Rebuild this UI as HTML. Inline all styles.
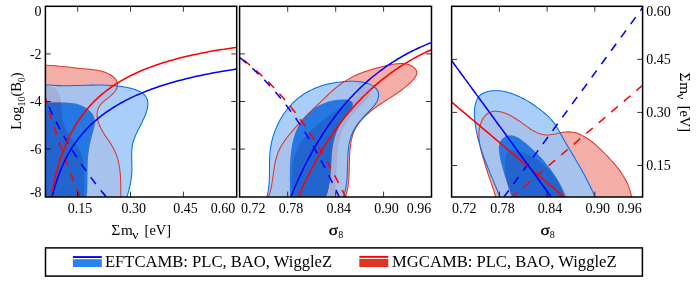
<!DOCTYPE html>
<html><head><meta charset="utf-8"><title>contours</title>
<style>html,body{margin:0;padding:0;background:#fff;}svg{display:block;font-family:"Liberation Serif",serif;will-change:transform;}</style>
</head><body>
<svg width="698" height="284" viewBox="0 0 698 284">
<rect width="698" height="284" fill="#fff"/>
<defs>
<clipPath id="cL"><rect x="45.4" y="6.3" width="191.3" height="190.7"/></clipPath>
<clipPath id="cM"><rect x="239.6" y="6.3" width="191.9" height="190.7"/></clipPath>
<clipPath id="cR"><rect x="451.6" y="6.3" width="191.0" height="190.7"/></clipPath>
</defs>
<g clip-path="url(#cL)">
<path d="M39.9,65.5 L42.6,65.4 L45.2,65.3 L47.8,65.3 L50.3,65.4 L52.9,65.5 L55.4,65.7 L57.9,65.9 L60.3,66.2 L62.8,66.4 L65.3,66.7 L67.8,67.0 L70.2,67.3 L72.7,67.6 L75.2,67.9 L77.8,68.2 L80.3,68.5 L82.9,68.7 L85.5,68.9 L88.1,69.1 L90.7,69.4 L93.3,69.7 L95.8,70.1 L98.4,70.5 L100.9,71.1 L103.4,71.8 L105.8,72.6 L108.1,73.6 L110.4,74.8 L112.5,76.2 L114.4,77.8 L115.9,79.6 L116.9,81.6 L117.4,83.8 L117.3,86.1 L116.8,88.3 L115.7,90.5 L114.1,92.5 L112.2,94.4 L110.1,96.3 L107.9,98.1 L105.6,99.9 L103.5,101.7 L101.6,103.6 L99.9,105.5 L98.7,107.6 L97.8,109.8 L97.3,112.0 L97.1,114.3 L97.2,116.6 L97.5,118.9 L98.1,121.3 L98.9,123.7 L99.8,126.0 L100.9,128.3 L102.1,130.6 L103.4,132.8 L104.8,135.0 L106.3,137.1 L107.7,139.3 L109.2,141.4 L110.6,143.6 L111.9,145.8 L113.2,148.0 L114.4,150.2 L115.4,152.5 L116.4,154.8 L117.2,157.2 L117.9,159.6 L118.5,162.0 L119.0,164.5 L119.4,167.0 L119.8,169.5 L120.1,172.0 L120.3,174.6 L120.5,177.1 L120.6,179.7 L120.7,182.3 L120.7,184.8 L120.8,187.4 L120.8,189.9 L120.8,192.5 L120.8,195.0 L120.8,197.5 L120.8,200.0 L40.0,200.0Z" fill="#F3AEA7"/>
<path d="M39.8,86.1 L42.7,85.7 L45.6,85.7 L48.4,86.0 L51.0,86.7 L53.3,87.7 L55.4,89.0 L57.2,90.6 L58.5,92.6 L59.5,94.7 L60.2,97.0 L60.7,99.5 L61.1,102.0 L61.3,104.6 L61.5,107.2 L61.7,109.8 L61.9,112.4 L62.1,115.0 L62.4,117.5 L62.8,120.1 L63.4,122.5 L64.1,124.9 L65.0,127.3 L66.1,129.6 L67.4,131.8 L68.8,134.0 L70.2,136.2 L71.7,138.4 L73.3,140.5 L74.8,142.6 L76.3,144.8 L77.7,147.0 L79.1,149.2 L80.3,151.5 L81.4,153.8 L82.2,156.2 L82.9,158.6 L83.4,161.1 L83.8,163.7 L84.1,166.2 L84.2,168.9 L84.3,171.5 L84.3,174.2 L84.2,176.9 L84.2,179.5 L84.1,182.2 L84.1,184.8 L84.1,187.5 L84.2,190.1 L84.3,192.6 L84.6,195.1 L85.0,197.6 L85.5,200.0 L40.0,200.0Z" fill="#E03424"/>
<path d="M39.9,83.8 L42.5,84.2 L45.1,84.6 L47.7,84.9 L50.3,85.1 L52.9,85.3 L55.4,85.5 L58.0,85.6 L60.5,85.6 L63.1,85.7 L65.6,85.7 L68.1,85.7 L70.7,85.7 L73.2,85.6 L75.7,85.5 L78.2,85.5 L80.8,85.4 L83.3,85.3 L85.8,85.2 L88.3,85.2 L90.9,85.1 L93.4,85.1 L95.9,85.0 L98.5,85.0 L101.0,85.0 L103.6,85.1 L106.2,85.2 L108.7,85.3 L111.3,85.4 L113.9,85.6 L116.5,85.9 L119.2,86.2 L121.8,86.6 L124.4,87.0 L127.1,87.5 L129.8,88.0 L132.4,88.7 L135.0,89.5 L137.4,90.4 L139.7,91.4 L141.8,92.6 L143.6,94.1 L145.1,95.7 L146.3,97.5 L147.2,99.5 L147.7,101.6 L147.9,103.8 L147.8,106.1 L147.4,108.5 L146.7,111.0 L145.9,113.5 L144.9,116.0 L143.8,118.5 L142.7,120.9 L141.5,123.4 L140.3,125.7 L139.1,128.1 L137.9,130.5 L136.8,132.8 L135.7,135.1 L134.7,137.5 L133.9,139.8 L133.1,142.2 L132.5,144.6 L132.1,147.1 L131.9,149.6 L131.7,152.1 L131.7,154.6 L131.7,157.2 L131.8,159.7 L131.8,162.3 L131.9,164.9 L131.9,167.5 L131.9,170.0 L131.8,172.6 L131.6,175.1 L131.3,177.6 L131.0,180.2 L130.6,182.7 L130.1,185.2 L129.5,187.7 L128.9,190.1 L128.2,192.6 L127.5,195.0 L126.7,197.5 L125.8,199.9 L40.0,200.0Z M40.3,101.6 L42.6,101.9 L45.0,102.2 L47.4,102.3 L49.9,102.4 L52.5,102.4 L55.2,102.4 L57.8,102.4 L60.5,102.4 L63.2,102.4 L65.9,102.5 L68.5,102.7 L71.2,102.9 L73.8,103.3 L76.3,103.8 L78.8,104.5 L81.2,105.4 L83.6,106.4 L85.8,107.7 L87.8,109.1 L89.7,110.7 L91.3,112.4 L92.7,114.3 L93.8,116.3 L94.5,118.5 L94.9,120.8 L94.9,123.2 L94.6,125.8 L94.0,128.4 L93.3,131.0 L92.6,133.6 L91.8,136.2 L91.2,138.7 L90.6,141.3 L90.0,143.8 L89.5,146.3 L89.1,148.9 L88.7,151.4 L88.4,153.9 L88.1,156.5 L87.9,159.0 L87.8,161.6 L87.7,164.1 L87.6,166.7 L87.5,169.2 L87.5,171.8 L87.5,174.3 L87.4,176.9 L87.4,179.5 L87.4,182.0 L87.3,184.6 L87.3,187.2 L87.2,189.7 L87.0,192.3 L86.8,194.9 L86.6,197.4 L86.3,200.0 L40.0,200.0Z" fill="#99C5F8" fill-opacity="0.85" fill-rule="evenodd"/>
<path d="M40.3,101.6 L42.6,101.9 L45.0,102.2 L47.4,102.3 L49.9,102.4 L52.5,102.4 L55.2,102.4 L57.8,102.4 L60.5,102.4 L63.2,102.4 L65.9,102.5 L68.5,102.7 L71.2,102.9 L73.8,103.3 L76.3,103.8 L78.8,104.5 L81.2,105.4 L83.6,106.4 L85.8,107.7 L87.8,109.1 L89.7,110.7 L91.3,112.4 L92.7,114.3 L93.8,116.3 L94.5,118.5 L94.9,120.8 L94.9,123.2 L94.6,125.8 L94.0,128.4 L93.3,131.0 L92.6,133.6 L91.8,136.2 L91.2,138.7 L90.6,141.3 L90.0,143.8 L89.5,146.3 L89.1,148.9 L88.7,151.4 L88.4,153.9 L88.1,156.5 L87.9,159.0 L87.8,161.6 L87.7,164.1 L87.6,166.7 L87.5,169.2 L87.5,171.8 L87.5,174.3 L87.4,176.9 L87.4,179.5 L87.4,182.0 L87.3,184.6 L87.3,187.2 L87.2,189.7 L87.0,192.3 L86.8,194.9 L86.6,197.4 L86.3,200.0 L40.0,200.0Z" fill="#006FED" fill-opacity="0.85"/>
<path d="M39.9,65.5 L42.6,65.4 L45.2,65.3 L47.8,65.3 L50.3,65.4 L52.9,65.5 L55.4,65.7 L57.9,65.9 L60.3,66.2 L62.8,66.4 L65.3,66.7 L67.8,67.0 L70.2,67.3 L72.7,67.6 L75.2,67.9 L77.8,68.2 L80.3,68.5 L82.9,68.7 L85.5,68.9 L88.1,69.1 L90.7,69.4 L93.3,69.7 L95.8,70.1 L98.4,70.5 L100.9,71.1 L103.4,71.8 L105.8,72.6 L108.1,73.6 L110.4,74.8 L112.5,76.2 L114.4,77.8 L115.9,79.6 L116.9,81.6 L117.4,83.8 L117.3,86.1 L116.8,88.3 L115.7,90.5 L114.1,92.5 L112.2,94.4 L110.1,96.3 L107.9,98.1 L105.6,99.9 L103.5,101.7 L101.6,103.6 L99.9,105.5 L98.7,107.6 L97.8,109.8 L97.3,112.0 L97.1,114.3 L97.2,116.6 L97.5,118.9 L98.1,121.3 L98.9,123.7 L99.8,126.0 L100.9,128.3 L102.1,130.6 L103.4,132.8 L104.8,135.0 L106.3,137.1 L107.7,139.3 L109.2,141.4 L110.6,143.6 L111.9,145.8 L113.2,148.0 L114.4,150.2 L115.4,152.5 L116.4,154.8 L117.2,157.2 L117.9,159.6 L118.5,162.0 L119.0,164.5 L119.4,167.0 L119.8,169.5 L120.1,172.0 L120.3,174.6 L120.5,177.1 L120.6,179.7 L120.7,182.3 L120.7,184.8 L120.8,187.4 L120.8,189.9 L120.8,192.5 L120.8,195.0 L120.8,197.5 L120.8,200.0 L40.0,200.0Z" fill="none" stroke="#E03424" stroke-width="1.05"/>
<path d="M39.9,83.8 L42.5,84.2 L45.1,84.6 L47.7,84.9 L50.3,85.1 L52.9,85.3 L55.4,85.5 L58.0,85.6 L60.5,85.6 L63.1,85.7 L65.6,85.7 L68.1,85.7 L70.7,85.7 L73.2,85.6 L75.7,85.5 L78.2,85.5 L80.8,85.4 L83.3,85.3 L85.8,85.2 L88.3,85.2 L90.9,85.1 L93.4,85.1 L95.9,85.0 L98.5,85.0 L101.0,85.0 L103.6,85.1 L106.2,85.2 L108.7,85.3 L111.3,85.4 L113.9,85.6 L116.5,85.9 L119.2,86.2 L121.8,86.6 L124.4,87.0 L127.1,87.5 L129.8,88.0 L132.4,88.7 L135.0,89.5 L137.4,90.4 L139.7,91.4 L141.8,92.6 L143.6,94.1 L145.1,95.7 L146.3,97.5 L147.2,99.5 L147.7,101.6 L147.9,103.8 L147.8,106.1 L147.4,108.5 L146.7,111.0 L145.9,113.5 L144.9,116.0 L143.8,118.5 L142.7,120.9 L141.5,123.4 L140.3,125.7 L139.1,128.1 L137.9,130.5 L136.8,132.8 L135.7,135.1 L134.7,137.5 L133.9,139.8 L133.1,142.2 L132.5,144.6 L132.1,147.1 L131.9,149.6 L131.7,152.1 L131.7,154.6 L131.7,157.2 L131.8,159.7 L131.8,162.3 L131.9,164.9 L131.9,167.5 L131.9,170.0 L131.8,172.6 L131.6,175.1 L131.3,177.6 L131.0,180.2 L130.6,182.7 L130.1,185.2 L129.5,187.7 L128.9,190.1 L128.2,192.6 L127.5,195.0 L126.7,197.5 L125.8,199.9 L40.0,200.0Z" fill="none" stroke="#006FED" stroke-width="1.05"/>
<path d="M45.0,97.0 L45.0,97.3 L45.1,97.5 L45.2,97.8 L45.3,98.1 L45.3,98.3 L45.4,98.6 L45.5,98.9 L45.6,99.1 L45.6,99.4 L45.7,99.7 L45.8,99.9 L45.9,100.2 L45.9,100.5 L46.0,100.7 L46.1,101.0 L46.2,101.3 L46.2,101.5 L46.3,101.8 L46.4,102.1 L46.5,102.3 L46.5,102.6 L46.6,102.9 L46.7,103.1 L46.8,103.4 L46.8,103.7 L46.9,103.9 L47.0,104.2 L47.1,104.5 L47.1,104.7 L47.2,105.0 L47.3,105.3 L47.4,105.5 L47.4,105.8 L47.5,106.1 L47.6,106.3 L47.7,106.6 L47.8,106.8 L47.8,107.1 L47.9,107.4 L48.0,107.6 L48.1,107.9 L48.1,108.2 L48.2,108.4 L48.3,108.7 L48.4,109.0 L48.5,109.2 L48.5,109.5 L48.6,109.8 L48.7,110.0 L48.8,110.3 L48.9,110.6 L48.9,110.8 L49.0,111.1 L49.1,111.4 L49.2,111.6 L49.3,111.9 L49.3,112.1 L49.4,112.4 L49.5,112.7 L49.6,112.9 L49.7,113.2 L49.7,113.5 L49.8,113.7 L49.9,114.0 L50.0,114.3 L50.1,114.5 L50.1,114.8 L50.2,115.1 L50.3,115.3 L50.4,115.6 L50.5,115.8 L50.5,116.1 L50.6,116.4 L50.7,116.6 L50.8,116.9 L50.9,117.2 L51.0,117.4 L51.0,117.7 L51.1,118.0 L51.2,118.2 L51.3,118.5 L51.4,118.7 L51.4,119.0 L51.5,119.3 L51.6,119.5 L51.7,119.8 L51.8,120.1 L51.9,120.3 L51.9,120.6 L52.0,120.9 L52.1,121.1 L52.2,121.4 L52.3,121.6 L52.4,121.9 L52.4,122.2 L52.5,122.4 L52.6,122.7 L52.7,123.0 L52.8,123.2 L52.9,123.5 L53.0,123.8 L53.0,124.0 L53.1,124.3 L53.2,124.5 L53.3,124.8 L53.4,125.1 L53.5,125.3 L53.5,125.6 L53.6,125.9 L53.7,126.1 L53.8,126.4 L53.9,126.6 L54.0,126.9 L54.1,127.2 L54.1,127.4 L54.2,127.7 L54.3,128.0 L54.4,128.2 L54.5,128.5 L54.6,128.7 L54.7,129.0 L54.8,129.3 L54.8,129.5 L54.9,129.8 L55.0,130.1 L55.1,130.3 L55.2,130.6 L55.3,130.8 L55.4,131.1 L55.4,131.4 L55.5,131.6 L55.6,131.9 L55.7,132.2 L55.8,132.4 L55.9,132.7 L56.0,132.9 L56.1,133.2 L56.1,133.5 L56.2,133.7 L56.3,134.0 L56.4,134.3 L56.5,134.5 L56.6,134.8 L56.7,135.0 L56.8,135.3 L56.9,135.6 L56.9,135.8 L57.0,136.1 L57.1,136.3 L57.2,136.6 L57.3,136.9 L57.4,137.1 L57.5,137.4 L57.6,137.7 L57.7,137.9 L57.7,138.2 L57.8,138.4 L57.9,138.7 L58.0,139.0 L58.1,139.2 L58.2,139.5 L58.3,139.7 L58.4,140.0 L58.5,140.3 L58.6,140.5 L58.6,140.8 L58.7,141.1 L58.8,141.3 L58.9,141.6 L59.0,141.8 L59.1,142.1 L59.2,142.4 L59.3,142.6 L59.4,142.9 L59.5,143.1 L59.6,143.4 L59.6,143.7 L59.7,143.9 L59.8,144.2 L59.9,144.4 L60.0,144.7 L60.1,145.0 L60.2,145.2 L60.3,145.5 L60.4,145.8 L60.5,146.0 L60.6,146.3 L60.7,146.5 L60.7,146.8 L60.8,147.1 L60.9,147.3 L61.0,147.6 L61.1,147.8 L61.2,148.1 L61.3,148.4 L61.4,148.6 L61.5,148.9 L61.6,149.1 L61.7,149.4 L61.8,149.7 L61.9,149.9 L61.9,150.2 L62.0,150.4 L62.1,150.7 L62.2,151.0 L62.3,151.2 L62.4,151.5 L62.5,151.7 L62.6,152.0 L62.7,152.3 L62.8,152.5 L62.9,152.8 L63.0,153.0 L63.1,153.3 L63.2,153.6 L63.3,153.8 L63.4,154.1 L63.5,154.3 L63.5,154.6 L63.6,154.9 L63.7,155.1 L63.8,155.4 L63.9,155.6 L64.0,155.9 L64.1,156.2 L64.2,156.4 L64.3,156.7 L64.4,156.9 L64.5,157.2 L64.6,157.5 L64.7,157.7 L64.8,158.0 L64.9,158.2 L65.0,158.5 L65.1,158.8 L65.2,159.0 L65.3,159.3 L65.4,159.5 L65.4,159.8 L65.5,160.1 L65.6,160.3 L65.7,160.6 L65.8,160.8 L65.9,161.1 L66.0,161.4 L66.1,161.6 L66.2,161.9 L66.3,162.1 L66.4,162.4 L66.5,162.6 L66.6,162.9 L66.7,163.2 L66.8,163.4 L66.9,163.7 L67.0,163.9 L67.1,164.2 L67.2,164.5 L67.3,164.7 L67.4,165.0 L67.5,165.2 L67.6,165.5 L67.7,165.8 L67.8,166.0 L67.9,166.3 L68.0,166.5 L68.1,166.8 L68.2,167.0 L68.3,167.3 L68.3,167.6 L68.4,167.8 L68.5,168.1 L68.6,168.3 L68.7,168.6 L68.8,168.9 L68.9,169.1 L69.0,169.4 L69.1,169.6 L69.2,169.9 L69.3,170.2 L69.4,170.4 L69.5,170.7 L69.6,170.9 L69.7,171.2 L69.8,171.4 L69.9,171.7 L70.0,172.0 L70.1,172.2 L70.2,172.5 L70.3,172.7 L70.4,173.0 L70.5,173.3 L70.6,173.5 L70.7,173.8 L70.8,174.0 L70.9,174.3 L71.0,174.5 L71.1,174.8 L71.2,175.1 L71.3,175.3 L71.4,175.6 L71.5,175.8 L71.6,176.1 L71.7,176.3 L71.8,176.6 L71.9,176.9 L72.0,177.1 L72.1,177.4 L72.2,177.6 L72.3,177.9 L72.4,178.2 L72.5,178.4 L72.6,178.7 L72.7,178.9 L72.8,179.2 L72.9,179.4 L73.0,179.7 L73.1,180.0 L73.2,180.2 L73.3,180.5 L73.4,180.7 L73.5,181.0 L73.6,181.2 L73.7,181.5 L73.8,181.8 L73.9,182.0 L74.0,182.3 L74.1,182.5 L74.2,182.8 L74.3,183.0 L74.4,183.3 L74.5,183.6 L74.6,183.8 L74.7,184.1 L74.8,184.3 L74.9,184.6 L75.0,184.8 L75.1,185.1 L75.2,185.4 L75.3,185.6 L75.4,185.9 L75.5,186.1 L75.6,186.4 L75.7,186.6 L75.8,186.9 L75.9,187.2 L76.0,187.4 L76.1,187.7 L76.2,187.9 L76.3,188.2 L76.4,188.4 L76.5,188.7 L76.6,189.0 L76.7,189.2 L76.8,189.5 L76.9,189.7 L77.0,190.0 L77.1,190.2 L77.2,190.5 L77.3,190.8 L77.4,191.0 L77.5,191.3 L77.6,191.5 L77.7,191.8 L77.8,192.0 L77.9,192.3 L78.1,192.6 L78.2,192.8 L78.3,193.1 L78.4,193.3 L78.5,193.6 L78.6,193.8 L78.7,194.1 L78.8,194.4 L78.9,194.6 L79.0,194.9 L79.1,195.1 L79.2,195.4 L79.3,195.6 L79.4,195.9 L79.5,196.2 L79.6,196.4 L79.7,196.7 L79.8,196.9 L79.9,197.2 L80.0,197.4 L80.1,197.7 L80.2,197.9 L80.3,198.2 L80.4,198.5 L80.5,198.7 L80.6,199.0 L80.7,199.2 L80.8,199.5 L80.9,199.7 L81.0,200.0 L81.1,200.3 L81.2,200.5 L81.3,200.8 L81.4,201.0" fill="none" stroke="#f00" stroke-width="1.55" stroke-dasharray="8.6 7.95" stroke-dashoffset="1.60"/>
<path d="M44.2,95.4 L44.3,95.7 L44.4,96.0 L44.6,96.3 L44.7,96.6 L44.8,96.9 L44.9,97.2 L45.0,97.4 L45.1,97.7 L45.3,98.0 L45.4,98.3 L45.5,98.6 L45.6,98.9 L45.8,99.2 L45.9,99.5 L46.0,99.8 L46.1,100.1 L46.2,100.4 L46.4,100.6 L46.5,100.9 L46.6,101.2 L46.7,101.5 L46.9,101.8 L47.0,102.1 L47.1,102.4 L47.2,102.7 L47.3,103.0 L47.5,103.3 L47.6,103.5 L47.7,103.8 L47.8,104.1 L48.0,104.4 L48.1,104.7 L48.2,105.0 L48.4,105.3 L48.5,105.6 L48.6,105.9 L48.7,106.1 L48.9,106.4 L49.0,106.7 L49.1,107.0 L49.2,107.3 L49.4,107.6 L49.5,107.9 L49.6,108.2 L49.8,108.4 L49.9,108.7 L50.0,109.0 L50.2,109.3 L50.3,109.6 L50.4,109.9 L50.6,110.2 L50.7,110.5 L50.8,110.7 L50.9,111.0 L51.1,111.3 L51.2,111.6 L51.3,111.9 L51.5,112.2 L51.6,112.5 L51.7,112.7 L51.9,113.0 L52.0,113.3 L52.1,113.6 L52.3,113.9 L52.4,114.2 L52.6,114.4 L52.7,114.7 L52.8,115.0 L53.0,115.3 L53.1,115.6 L53.2,115.9 L53.4,116.1 L53.5,116.4 L53.6,116.7 L53.8,117.0 L53.9,117.3 L54.1,117.6 L54.2,117.8 L54.3,118.1 L54.5,118.4 L54.6,118.7 L54.8,119.0 L54.9,119.3 L55.0,119.5 L55.2,119.8 L55.3,120.1 L55.5,120.4 L55.6,120.7 L55.7,120.9 L55.9,121.2 L56.0,121.5 L56.2,121.8 L56.3,122.1 L56.5,122.3 L56.6,122.6 L56.7,122.9 L56.9,123.2 L57.0,123.5 L57.2,123.7 L57.3,124.0 L57.5,124.3 L57.6,124.6 L57.8,124.9 L57.9,125.1 L58.0,125.4 L58.2,125.7 L58.3,126.0 L58.5,126.3 L58.6,126.5 L58.8,126.8 L58.9,127.1 L59.1,127.4 L59.2,127.6 L59.4,127.9 L59.5,128.2 L59.7,128.5 L59.8,128.7 L60.0,129.0 L60.1,129.3 L60.3,129.6 L60.4,129.9 L60.6,130.1 L60.7,130.4 L60.9,130.7 L61.0,131.0 L61.2,131.2 L61.3,131.5 L61.5,131.8 L61.6,132.1 L61.8,132.3 L61.9,132.6 L62.1,132.9 L62.2,133.2 L62.4,133.4 L62.5,133.7 L62.7,134.0 L62.8,134.3 L63.0,134.5 L63.1,134.8 L63.3,135.1 L63.4,135.4 L63.6,135.6 L63.8,135.9 L63.9,136.2 L64.1,136.5 L64.2,136.7 L64.4,137.0 L64.5,137.3 L64.7,137.5 L64.8,137.8 L65.0,138.1 L65.2,138.4 L65.3,138.6 L65.5,138.9 L65.6,139.2 L65.8,139.4 L65.9,139.7 L66.1,140.0 L66.3,140.3 L66.4,140.5 L66.6,140.8 L66.7,141.1 L66.9,141.3 L67.1,141.6 L67.2,141.9 L67.4,142.2 L67.5,142.4 L67.7,142.7 L67.9,143.0 L68.0,143.2 L68.2,143.5 L68.3,143.8 L68.5,144.0 L68.7,144.3 L68.8,144.6 L69.0,144.9 L69.2,145.1 L69.3,145.4 L69.5,145.7 L69.6,145.9 L69.8,146.2 L70.0,146.5 L70.1,146.7 L70.3,147.0 L70.5,147.3 L70.6,147.5 L70.8,147.8 L71.0,148.1 L71.1,148.3 L71.3,148.6 L71.5,148.9 L71.6,149.1 L71.8,149.4 L72.0,149.7 L72.1,149.9 L72.3,150.2 L72.5,150.5 L72.6,150.7 L72.8,151.0 L73.0,151.3 L73.1,151.5 L73.3,151.8 L73.5,152.1 L73.6,152.3 L73.8,152.6 L74.0,152.9 L74.1,153.1 L74.3,153.4 L74.5,153.7 L74.6,153.9 L74.8,154.2 L75.0,154.5 L75.2,154.7 L75.3,155.0 L75.5,155.2 L75.7,155.5 L75.8,155.8 L76.0,156.0 L76.2,156.3 L76.4,156.6 L76.5,156.8 L76.7,157.1 L76.9,157.4 L77.0,157.6 L77.2,157.9 L77.4,158.1 L77.6,158.4 L77.7,158.7 L77.9,158.9 L78.1,159.2 L78.3,159.5 L78.4,159.7 L78.6,160.0 L78.8,160.2 L79.0,160.5 L79.1,160.8 L79.3,161.0 L79.5,161.3 L79.7,161.5 L79.8,161.8 L80.0,162.1 L80.2,162.3 L80.4,162.6 L80.5,162.8 L80.7,163.1 L80.9,163.4 L81.1,163.6 L81.2,163.9 L81.4,164.1 L81.6,164.4 L81.8,164.7 L82.0,164.9 L82.1,165.2 L82.3,165.4 L82.5,165.7 L82.7,166.0 L82.9,166.2 L83.0,166.5 L83.2,166.7 L83.4,167.0 L83.6,167.2 L83.8,167.5 L83.9,167.8 L84.1,168.0 L84.3,168.3 L84.5,168.5 L84.7,168.8 L84.8,169.0 L85.0,169.3 L85.2,169.6 L85.4,169.8 L85.6,170.1 L85.7,170.3 L85.9,170.6 L86.1,170.8 L86.3,171.1 L86.5,171.4 L86.7,171.6 L86.8,171.9 L87.0,172.1 L87.2,172.4 L87.4,172.6 L87.6,172.9 L87.8,173.1 L88.0,173.4 L88.1,173.7 L88.3,173.9 L88.5,174.2 L88.7,174.4 L88.9,174.7 L89.1,174.9 L89.2,175.2 L89.4,175.4 L89.6,175.7 L89.8,175.9 L90.0,176.2 L90.2,176.4 L90.4,176.7 L90.6,177.0 L90.7,177.2 L90.9,177.5 L91.1,177.7 L91.3,178.0 L91.5,178.2 L91.7,178.5 L91.9,178.7 L92.1,179.0 L92.2,179.2 L92.4,179.5 L92.6,179.7 L92.8,180.0 L93.0,180.2 L93.2,180.5 L93.4,180.7 L93.6,181.0 L93.8,181.2 L94.0,181.5 L94.1,181.7 L94.3,182.0 L94.5,182.2 L94.7,182.5 L94.9,182.7 L95.1,183.0 L95.3,183.2 L95.5,183.5 L95.7,183.7 L95.9,184.0 L96.1,184.2 L96.2,184.5 L96.4,184.7 L96.6,185.0 L96.8,185.2 L97.0,185.5 L97.2,185.7 L97.4,186.0 L97.6,186.2 L97.8,186.5 L98.0,186.7 L98.2,187.0 L98.4,187.2 L98.6,187.5 L98.8,187.7 L99.0,188.0 L99.1,188.2 L99.3,188.5 L99.5,188.7 L99.7,189.0 L99.9,189.2 L100.1,189.4 L100.3,189.7 L100.5,189.9 L100.7,190.2 L100.9,190.4 L101.1,190.7 L101.3,190.9 L101.5,191.2 L101.7,191.4 L101.9,191.7 L102.1,191.9 L102.3,192.2 L102.5,192.4 L102.7,192.6 L102.9,192.9 L103.1,193.1 L103.3,193.4 L103.5,193.6 L103.7,193.9 L103.9,194.1 L104.1,194.4 L104.3,194.6 L104.5,194.8 L104.7,195.1 L104.9,195.3 L105.1,195.6 L105.3,195.8 L105.5,196.1 L105.7,196.3 L105.9,196.6 L106.1,196.8 L106.3,197.0 L106.5,197.3 L106.7,197.5 L106.9,197.8 L107.1,198.0 L107.3,198.3 L107.5,198.5 L107.7,198.7 L107.9,199.0 L108.1,199.2 L108.3,199.5 L108.5,199.7 L108.7,199.9 L108.9,200.2 L109.1,200.4 L109.3,200.7 L109.5,200.9 L109.7,201.2 L109.9,201.4 L110.1,201.6" fill="none" stroke="#00f" stroke-width="1.55" stroke-dasharray="8.6 7.95" stroke-dashoffset="4.00"/>
<path d="M49.8,204.3 L49.8,204.2 L49.9,204.0 L49.9,203.6 L50.0,203.0 L50.1,202.3 L50.3,201.4 L50.5,200.4 L50.7,199.2 L50.9,197.9 L51.1,196.5 L51.4,195.0 L51.7,193.4 L52.1,191.6 L52.4,189.8 L52.8,187.9 L53.2,185.9 L53.7,183.9 L54.2,181.8 L54.6,179.7 L55.2,177.5 L55.7,175.3 L56.3,173.0 L56.9,170.8 L57.5,168.5 L58.2,166.2 L58.9,163.9 L59.6,161.6 L60.3,159.3 L61.1,157.0 L61.9,154.7 L62.7,152.4 L63.6,150.1 L64.4,147.9 L65.3,145.7 L66.3,143.5 L67.2,141.3 L68.2,139.2 L69.2,137.0 L70.2,134.9 L71.3,132.9 L72.4,130.8 L73.5,128.8 L74.6,126.8 L75.8,124.9 L77.0,122.9 L78.2,121.0 L79.5,119.2 L80.7,117.3 L82.0,115.5 L83.4,113.8 L84.7,112.0 L86.1,110.3 L87.5,108.6 L89.0,107.0 L90.4,105.3 L91.9,103.7 L93.4,102.2 L95.0,100.6 L96.6,99.1 L98.2,97.6 L99.8,96.2 L101.4,94.7 L103.1,93.3 L104.8,92.0 L106.5,90.6 L108.3,89.3 L110.1,88.0 L111.9,86.7 L113.7,85.5 L115.6,84.2 L117.5,83.0 L119.4,81.9 L121.4,80.7 L123.3,79.6 L125.4,78.5 L127.4,77.4 L129.4,76.3 L131.5,75.3 L133.6,74.2 L135.8,73.2 L137.9,72.2 L140.1,71.3 L142.3,70.3 L144.6,69.4 L146.8,68.5 L149.1,67.6 L151.5,66.7 L153.8,65.9 L156.2,65.0 L158.6,64.2 L161.0,63.4 L163.5,62.6 L166.0,61.9 L168.5,61.1 L171.0,60.4 L173.6,59.7 L176.2,59.0 L178.8,58.3 L181.4,57.6 L184.1,56.9 L186.8,56.3 L189.5,55.7 L192.3,55.1 L195.1,54.5 L197.9,53.9 L200.7,53.3 L203.6,52.7 L206.5,52.2 L209.4,51.6 L212.3,51.1 L215.3,50.6 L218.3,50.1 L221.3,49.6 L224.4,49.2 L227.4,48.7 L230.5,48.3 L233.7,47.8 L236.8,47.4 L240.0,47.0" fill="none" stroke="#f00" stroke-width="1.55"/>
<path d="M50.5,204.5 L50.5,204.5 L50.6,204.3 L50.6,204.0 L50.7,203.5 L50.8,202.9 L51.0,202.3 L51.2,201.5 L51.4,200.5 L51.6,199.5 L51.8,198.4 L52.1,197.2 L52.4,196.0 L52.8,194.6 L53.1,193.2 L53.5,191.7 L53.9,190.1 L54.4,188.5 L54.8,186.9 L55.3,185.2 L55.9,183.5 L56.4,181.7 L57.0,180.0 L57.6,178.2 L58.2,176.4 L58.9,174.6 L59.5,172.7 L60.3,170.9 L61.0,169.1 L61.8,167.3 L62.5,165.5 L63.4,163.6 L64.2,161.8 L65.1,160.0 L66.0,158.3 L66.9,156.5 L67.8,154.7 L68.8,153.0 L69.8,151.3 L70.9,149.5 L71.9,147.9 L73.0,146.2 L74.1,144.5 L75.2,142.9 L76.4,141.3 L77.6,139.7 L78.8,138.1 L80.1,136.5 L81.3,135.0 L82.6,133.4 L84.0,131.9 L85.3,130.4 L86.7,129.0 L88.1,127.5 L89.5,126.1 L91.0,124.7 L92.5,123.3 L94.0,121.9 L95.5,120.6 L97.1,119.3 L98.7,117.9 L100.3,116.7 L101.9,115.4 L103.6,114.1 L105.3,112.9 L107.0,111.7 L108.8,110.5 L110.6,109.3 L112.4,108.1 L114.2,107.0 L116.1,105.8 L118.0,104.7 L119.9,103.6 L121.8,102.5 L123.8,101.5 L125.8,100.4 L127.8,99.4 L129.8,98.4 L131.9,97.4 L134.0,96.4 L136.1,95.4 L138.3,94.5 L140.5,93.6 L142.7,92.6 L144.9,91.7 L147.2,90.8 L149.5,90.0 L151.8,89.1 L154.1,88.3 L156.5,87.4 L158.9,86.6 L161.3,85.8 L163.8,85.0 L166.2,84.2 L168.7,83.5 L171.3,82.7 L173.8,82.0 L176.4,81.3 L179.0,80.6 L181.7,79.9 L184.3,79.2 L187.0,78.6 L189.7,77.9 L192.5,77.3 L195.2,76.6 L198.0,76.0 L200.9,75.4 L203.7,74.8 L206.6,74.2 L209.5,73.7 L212.4,73.1 L215.4,72.6 L218.4,72.1 L221.4,71.5 L224.4,71.0 L227.5,70.5 L230.6,70.1 L233.7,69.6 L236.8,69.1 L240.0,68.7" fill="none" stroke="#00f" stroke-width="1.55"/>
</g>
<g clip-path="url(#cM)">
<path d="M267.1,199.9 L268.1,197.6 L269.0,195.3 L269.8,192.9 L270.5,190.4 L271.1,188.0 L271.6,185.5 L272.0,183.0 L272.4,180.5 L272.8,177.9 L273.1,175.4 L273.5,172.9 L273.8,170.3 L274.2,167.8 L274.6,165.3 L275.1,162.8 L275.6,160.4 L276.3,158.0 L277.0,155.6 L277.8,153.2 L278.7,150.9 L279.8,148.7 L281.0,146.5 L282.3,144.3 L283.7,142.2 L285.1,140.1 L286.7,138.0 L288.2,136.0 L289.8,134.0 L291.5,132.1 L293.1,130.2 L294.7,128.3 L296.4,126.4 L298.1,124.5 L299.8,122.7 L301.5,120.9 L303.2,119.1 L305.0,117.3 L306.7,115.5 L308.5,113.7 L310.3,112.0 L312.1,110.2 L313.9,108.4 L315.7,106.7 L317.5,104.9 L319.3,103.1 L321.2,101.4 L323.0,99.6 L324.9,97.8 L326.8,96.0 L328.7,94.2 L330.6,92.4 L332.5,90.7 L334.5,89.0 L336.4,87.3 L338.4,85.7 L340.5,84.2 L342.5,82.8 L344.6,81.4 L346.7,80.1 L348.8,78.9 L350.9,77.7 L353.1,76.6 L355.3,75.5 L357.5,74.5 L359.8,73.6 L362.1,72.7 L364.4,71.8 L366.8,71.0 L369.1,70.2 L371.6,69.5 L374.0,68.8 L376.5,68.1 L379.0,67.4 L381.6,66.8 L384.1,66.2 L386.8,65.6 L389.4,65.0 L392.1,64.5 L394.8,64.0 L397.4,63.7 L400.0,63.5 L402.6,63.6 L405.1,63.8 L407.6,64.3 L409.9,65.1 L412.1,66.2 L414.1,67.7 L415.6,69.3 L416.6,71.1 L416.9,73.0 L416.4,75.0 L415.3,77.1 L413.8,79.1 L412.0,81.1 L410.0,83.0 L408.0,84.9 L406.0,86.6 L404.0,88.2 L402.0,89.7 L399.9,91.2 L397.9,92.6 L395.9,94.0 L393.9,95.4 L391.8,96.7 L389.7,98.1 L387.6,99.4 L385.5,100.8 L383.4,102.1 L381.2,103.6 L379.1,105.0 L376.9,106.5 L374.8,108.1 L372.7,109.7 L370.7,111.3 L368.6,113.0 L366.7,114.7 L364.8,116.4 L363.0,118.3 L361.3,120.1 L359.7,122.1 L358.2,124.1 L356.9,126.1 L355.6,128.2 L354.6,130.4 L353.6,132.6 L352.8,134.9 L352.1,137.2 L351.5,139.6 L351.0,142.0 L350.6,144.4 L350.3,146.9 L350.0,149.4 L349.8,151.9 L349.7,154.5 L349.5,157.1 L349.5,159.7 L349.4,162.3 L349.3,164.9 L349.3,167.5 L349.2,170.1 L349.2,172.7 L349.0,175.3 L348.9,177.9 L348.7,180.4 L348.5,183.0 L348.2,185.5 L347.8,188.0 L347.3,190.4 L346.7,192.8 L346.0,195.2 L345.2,197.5 L344.3,199.8Z" fill="#F3AEA7"/>
<path d="M291.0,199.9 L291.2,197.5 L291.3,195.1 L291.4,192.6 L291.5,190.1 L291.5,187.5 L291.6,184.9 L291.6,182.4 L291.7,179.8 L291.8,177.2 L291.9,174.6 L292.0,172.0 L292.2,169.4 L292.5,166.8 L292.8,164.3 L293.2,161.8 L293.7,159.3 L294.3,156.9 L295.0,154.5 L295.8,152.1 L296.8,149.8 L297.8,147.6 L299.0,145.4 L300.3,143.3 L301.7,141.2 L303.2,139.2 L304.8,137.2 L306.4,135.2 L308.1,133.3 L309.9,131.5 L311.8,129.7 L313.7,127.9 L315.6,126.2 L317.6,124.5 L319.6,122.8 L321.6,121.2 L323.6,119.6 L325.7,118.0 L327.7,116.5 L329.7,115.0 L331.7,113.5 L333.7,112.0 L335.8,110.6 L337.8,109.2 L339.8,107.8 L341.9,106.4 L344.0,105.1 L346.2,103.8 L348.4,102.5 L350.6,101.1 L352.7,99.7 L354.5,98.1 L356.1,96.2 L357.3,94.1 L358.4,91.9 L359.7,89.7 L361.5,87.8 L364.1,86.4 L367.2,85.7 L369.6,86.0 L371.0,87.3 L371.4,89.2 L371.3,91.3 L370.6,93.4 L369.6,95.4 L368.3,97.4 L366.7,99.4 L364.9,101.4 L363.0,103.4 L361.0,105.4 L359.1,107.3 L357.2,109.3 L355.3,111.2 L353.6,113.2 L351.9,115.2 L350.3,117.2 L348.8,119.2 L347.4,121.2 L346.1,123.3 L344.9,125.5 L343.8,127.6 L342.8,129.9 L341.9,132.1 L341.1,134.4 L340.4,136.8 L339.7,139.2 L339.2,141.6 L338.7,144.1 L338.3,146.6 L338.0,149.1 L337.7,151.7 L337.4,154.2 L337.2,156.8 L337.0,159.4 L336.9,162.0 L336.7,164.6 L336.6,167.2 L336.5,169.8 L336.4,172.4 L336.3,175.0 L336.2,177.6 L336.0,180.2 L335.8,182.7 L335.6,185.2 L335.4,187.7 L335.1,190.2 L334.8,192.7 L334.4,195.1 L333.9,197.5 L333.4,199.8Z" fill="#E03424"/>
<path d="M265.9,200.0 L266.7,197.5 L267.4,195.0 L267.9,192.5 L268.4,189.9 L268.7,187.4 L269.0,184.9 L269.2,182.4 L269.3,179.9 L269.4,177.3 L269.4,174.8 L269.5,172.3 L269.5,169.8 L269.5,167.3 L269.5,164.7 L269.5,162.2 L269.6,159.7 L269.7,157.2 L269.8,154.7 L270.0,152.2 L270.3,149.7 L270.7,147.1 L271.1,144.6 L271.6,142.1 L272.2,139.7 L272.9,137.2 L273.6,134.8 L274.5,132.3 L275.4,129.9 L276.3,127.6 L277.4,125.2 L278.5,122.9 L279.7,120.6 L280.9,118.4 L282.2,116.2 L283.6,114.1 L285.1,112.0 L286.6,110.0 L288.2,108.0 L289.8,106.1 L291.5,104.3 L293.3,102.5 L295.1,100.8 L297.0,99.2 L298.9,97.6 L300.9,96.2 L302.9,94.8 L305.0,93.4 L307.1,92.2 L309.3,91.0 L311.6,89.9 L313.8,88.8 L316.1,87.8 L318.5,86.9 L320.8,86.1 L323.3,85.3 L325.7,84.6 L328.2,84.0 L330.7,83.4 L333.2,82.9 L335.8,82.5 L338.3,82.2 L340.9,81.9 L343.5,81.6 L346.1,81.4 L348.8,81.3 L351.4,81.3 L354.1,81.3 L356.7,81.5 L359.3,81.7 L361.8,82.1 L364.3,82.6 L366.7,83.3 L369.0,84.1 L371.3,85.1 L373.4,86.3 L375.3,87.8 L376.9,89.4 L378.0,91.4 L378.6,93.6 L378.6,96.0 L378.2,98.3 L377.4,100.6 L376.2,102.8 L374.8,104.9 L373.1,107.0 L371.3,108.9 L369.4,110.9 L367.5,112.8 L365.6,114.7 L363.9,116.6 L362.1,118.5 L360.5,120.5 L358.9,122.4 L357.4,124.4 L356.0,126.5 L354.7,128.5 L353.5,130.6 L352.5,132.8 L351.6,135.0 L350.8,137.3 L350.1,139.6 L349.5,142.0 L349.0,144.5 L348.7,146.9 L348.4,149.4 L348.1,152.0 L347.9,154.5 L347.8,157.1 L347.7,159.7 L347.6,162.4 L347.5,165.0 L347.5,167.6 L347.4,170.2 L347.3,172.8 L347.2,175.5 L347.1,178.0 L346.8,180.6 L346.6,183.1 L346.2,185.6 L345.8,188.1 L345.3,190.5 L344.7,192.9 L344.0,195.3 L343.1,197.5 L342.1,199.8Z M290.1,199.8 L290.1,197.5 L290.1,195.2 L290.0,192.8 L290.0,190.4 L289.9,187.9 L289.9,185.4 L289.9,182.8 L289.8,180.3 L289.8,177.7 L289.8,175.1 L289.8,172.5 L289.8,169.8 L289.9,167.2 L290.0,164.6 L290.1,161.9 L290.3,159.3 L290.5,156.7 L290.8,154.1 L291.1,151.5 L291.4,148.9 L291.8,146.4 L292.3,143.8 L292.9,141.3 L293.5,138.9 L294.2,136.4 L294.9,134.1 L295.8,131.7 L296.7,129.4 L297.8,127.2 L298.9,125.0 L300.1,122.9 L301.4,120.9 L302.8,118.9 L304.3,117.0 L306.0,115.1 L307.7,113.4 L309.6,111.7 L311.6,110.1 L313.7,108.6 L315.9,107.2 L318.1,105.9 L320.5,104.7 L322.9,103.7 L325.4,102.7 L328.0,101.8 L330.6,101.1 L333.2,100.5 L335.9,100.0 L338.6,99.7 L341.3,99.5 L344.0,99.4 L346.5,99.6 L348.9,100.1 L350.8,101.0 L352.2,102.4 L352.8,104.1 L352.4,106.2 L351.4,108.4 L350.0,110.6 L348.4,112.8 L346.8,114.9 L345.2,117.0 L343.6,119.1 L342.1,121.2 L340.8,123.4 L339.5,125.6 L338.3,127.9 L337.2,130.2 L336.3,132.6 L335.4,135.0 L334.6,137.4 L334.0,139.8 L333.4,142.3 L332.9,144.8 L332.5,147.3 L332.2,149.8 L331.9,152.3 L331.7,154.8 L331.5,157.4 L331.3,159.9 L331.2,162.5 L331.1,165.0 L330.9,167.6 L330.8,170.2 L330.6,172.7 L330.4,175.2 L330.2,177.8 L329.9,180.3 L329.5,182.8 L329.1,185.3 L328.6,187.8 L328.0,190.3 L327.4,192.7 L326.6,195.2 L325.6,197.6 L324.6,200.0Z" fill="#99C5F8" fill-opacity="0.85" fill-rule="evenodd"/>
<path d="M290.1,199.8 L290.1,197.5 L290.1,195.2 L290.0,192.8 L290.0,190.4 L289.9,187.9 L289.9,185.4 L289.9,182.8 L289.8,180.3 L289.8,177.7 L289.8,175.1 L289.8,172.5 L289.8,169.8 L289.9,167.2 L290.0,164.6 L290.1,161.9 L290.3,159.3 L290.5,156.7 L290.8,154.1 L291.1,151.5 L291.4,148.9 L291.8,146.4 L292.3,143.8 L292.9,141.3 L293.5,138.9 L294.2,136.4 L294.9,134.1 L295.8,131.7 L296.7,129.4 L297.8,127.2 L298.9,125.0 L300.1,122.9 L301.4,120.9 L302.8,118.9 L304.3,117.0 L306.0,115.1 L307.7,113.4 L309.6,111.7 L311.6,110.1 L313.7,108.6 L315.9,107.2 L318.1,105.9 L320.5,104.7 L322.9,103.7 L325.4,102.7 L328.0,101.8 L330.6,101.1 L333.2,100.5 L335.9,100.0 L338.6,99.7 L341.3,99.5 L344.0,99.4 L346.5,99.6 L348.9,100.1 L350.8,101.0 L352.2,102.4 L352.8,104.1 L352.4,106.2 L351.4,108.4 L350.0,110.6 L348.4,112.8 L346.8,114.9 L345.2,117.0 L343.6,119.1 L342.1,121.2 L340.8,123.4 L339.5,125.6 L338.3,127.9 L337.2,130.2 L336.3,132.6 L335.4,135.0 L334.6,137.4 L334.0,139.8 L333.4,142.3 L332.9,144.8 L332.5,147.3 L332.2,149.8 L331.9,152.3 L331.7,154.8 L331.5,157.4 L331.3,159.9 L331.2,162.5 L331.1,165.0 L330.9,167.6 L330.8,170.2 L330.6,172.7 L330.4,175.2 L330.2,177.8 L329.9,180.3 L329.5,182.8 L329.1,185.3 L328.6,187.8 L328.0,190.3 L327.4,192.7 L326.6,195.2 L325.6,197.6 L324.6,200.0Z" fill="#006FED" fill-opacity="0.85"/>
<path d="M267.1,199.9 L268.1,197.6 L269.0,195.3 L269.8,192.9 L270.5,190.4 L271.1,188.0 L271.6,185.5 L272.0,183.0 L272.4,180.5 L272.8,177.9 L273.1,175.4 L273.5,172.9 L273.8,170.3 L274.2,167.8 L274.6,165.3 L275.1,162.8 L275.6,160.4 L276.3,158.0 L277.0,155.6 L277.8,153.2 L278.7,150.9 L279.8,148.7 L281.0,146.5 L282.3,144.3 L283.7,142.2 L285.1,140.1 L286.7,138.0 L288.2,136.0 L289.8,134.0 L291.5,132.1 L293.1,130.2 L294.7,128.3 L296.4,126.4 L298.1,124.5 L299.8,122.7 L301.5,120.9 L303.2,119.1 L305.0,117.3 L306.7,115.5 L308.5,113.7 L310.3,112.0 L312.1,110.2 L313.9,108.4 L315.7,106.7 L317.5,104.9 L319.3,103.1 L321.2,101.4 L323.0,99.6 L324.9,97.8 L326.8,96.0 L328.7,94.2 L330.6,92.4 L332.5,90.7 L334.5,89.0 L336.4,87.3 L338.4,85.7 L340.5,84.2 L342.5,82.8 L344.6,81.4 L346.7,80.1 L348.8,78.9 L350.9,77.7 L353.1,76.6 L355.3,75.5 L357.5,74.5 L359.8,73.6 L362.1,72.7 L364.4,71.8 L366.8,71.0 L369.1,70.2 L371.6,69.5 L374.0,68.8 L376.5,68.1 L379.0,67.4 L381.6,66.8 L384.1,66.2 L386.8,65.6 L389.4,65.0 L392.1,64.5 L394.8,64.0 L397.4,63.7 L400.0,63.5 L402.6,63.6 L405.1,63.8 L407.6,64.3 L409.9,65.1 L412.1,66.2 L414.1,67.7 L415.6,69.3 L416.6,71.1 L416.9,73.0 L416.4,75.0 L415.3,77.1 L413.8,79.1 L412.0,81.1 L410.0,83.0 L408.0,84.9 L406.0,86.6 L404.0,88.2 L402.0,89.7 L399.9,91.2 L397.9,92.6 L395.9,94.0 L393.9,95.4 L391.8,96.7 L389.7,98.1 L387.6,99.4 L385.5,100.8 L383.4,102.1 L381.2,103.6 L379.1,105.0 L376.9,106.5 L374.8,108.1 L372.7,109.7 L370.7,111.3 L368.6,113.0 L366.7,114.7 L364.8,116.4 L363.0,118.3 L361.3,120.1 L359.7,122.1 L358.2,124.1 L356.9,126.1 L355.6,128.2 L354.6,130.4 L353.6,132.6 L352.8,134.9 L352.1,137.2 L351.5,139.6 L351.0,142.0 L350.6,144.4 L350.3,146.9 L350.0,149.4 L349.8,151.9 L349.7,154.5 L349.5,157.1 L349.5,159.7 L349.4,162.3 L349.3,164.9 L349.3,167.5 L349.2,170.1 L349.2,172.7 L349.0,175.3 L348.9,177.9 L348.7,180.4 L348.5,183.0 L348.2,185.5 L347.8,188.0 L347.3,190.4 L346.7,192.8 L346.0,195.2 L345.2,197.5 L344.3,199.8Z" fill="none" stroke="#E03424" stroke-width="1.05"/>
<path d="M265.9,200.0 L266.7,197.5 L267.4,195.0 L267.9,192.5 L268.4,189.9 L268.7,187.4 L269.0,184.9 L269.2,182.4 L269.3,179.9 L269.4,177.3 L269.4,174.8 L269.5,172.3 L269.5,169.8 L269.5,167.3 L269.5,164.7 L269.5,162.2 L269.6,159.7 L269.7,157.2 L269.8,154.7 L270.0,152.2 L270.3,149.7 L270.7,147.1 L271.1,144.6 L271.6,142.1 L272.2,139.7 L272.9,137.2 L273.6,134.8 L274.5,132.3 L275.4,129.9 L276.3,127.6 L277.4,125.2 L278.5,122.9 L279.7,120.6 L280.9,118.4 L282.2,116.2 L283.6,114.1 L285.1,112.0 L286.6,110.0 L288.2,108.0 L289.8,106.1 L291.5,104.3 L293.3,102.5 L295.1,100.8 L297.0,99.2 L298.9,97.6 L300.9,96.2 L302.9,94.8 L305.0,93.4 L307.1,92.2 L309.3,91.0 L311.6,89.9 L313.8,88.8 L316.1,87.8 L318.5,86.9 L320.8,86.1 L323.3,85.3 L325.7,84.6 L328.2,84.0 L330.7,83.4 L333.2,82.9 L335.8,82.5 L338.3,82.2 L340.9,81.9 L343.5,81.6 L346.1,81.4 L348.8,81.3 L351.4,81.3 L354.1,81.3 L356.7,81.5 L359.3,81.7 L361.8,82.1 L364.3,82.6 L366.7,83.3 L369.0,84.1 L371.3,85.1 L373.4,86.3 L375.3,87.8 L376.9,89.4 L378.0,91.4 L378.6,93.6 L378.6,96.0 L378.2,98.3 L377.4,100.6 L376.2,102.8 L374.8,104.9 L373.1,107.0 L371.3,108.9 L369.4,110.9 L367.5,112.8 L365.6,114.7 L363.9,116.6 L362.1,118.5 L360.5,120.5 L358.9,122.4 L357.4,124.4 L356.0,126.5 L354.7,128.5 L353.5,130.6 L352.5,132.8 L351.6,135.0 L350.8,137.3 L350.1,139.6 L349.5,142.0 L349.0,144.5 L348.7,146.9 L348.4,149.4 L348.1,152.0 L347.9,154.5 L347.8,157.1 L347.7,159.7 L347.6,162.4 L347.5,165.0 L347.5,167.6 L347.4,170.2 L347.3,172.8 L347.2,175.5 L347.1,178.0 L346.8,180.6 L346.6,183.1 L346.2,185.6 L345.8,188.1 L345.3,190.5 L344.7,192.9 L344.0,195.3 L343.1,197.5 L342.1,199.8Z" fill="none" stroke="#006FED" stroke-width="1.05"/>
<path d="M236.7,54.7 L237.1,55.0 L237.5,55.3 L237.9,55.6 L238.2,55.9 L238.6,56.2 L239.0,56.4 L239.4,56.7 L239.7,57.0 L240.1,57.3 L240.5,57.6 L240.9,57.9 L241.2,58.1 L241.6,58.4 L242.0,58.7 L242.3,59.0 L242.7,59.3 L243.1,59.6 L243.4,59.9 L243.8,60.2 L244.2,60.5 L244.5,60.7 L244.9,61.0 L245.3,61.3 L245.6,61.6 L246.0,61.9 L246.4,62.2 L246.7,62.5 L247.1,62.8 L247.5,63.1 L247.8,63.4 L248.2,63.7 L248.5,64.0 L248.9,64.3 L249.3,64.6 L249.6,64.9 L250.0,65.2 L250.3,65.5 L250.7,65.8 L251.1,66.1 L251.4,66.4 L251.8,66.7 L252.1,67.0 L252.5,67.3 L252.8,67.6 L253.2,67.9 L253.5,68.2 L253.9,68.5 L254.2,68.8 L254.6,69.1 L254.9,69.5 L255.3,69.8 L255.6,70.1 L256.0,70.4 L256.3,70.7 L256.7,71.0 L257.0,71.3 L257.4,71.6 L257.7,71.9 L258.1,72.2 L258.4,72.6 L258.8,72.9 L259.1,73.2 L259.5,73.5 L259.8,73.8 L260.2,74.1 L260.5,74.5 L260.8,74.8 L261.2,75.1 L261.5,75.4 L261.9,75.7 L262.2,76.0 L262.5,76.4 L262.9,76.7 L263.2,77.0 L263.6,77.3 L263.9,77.6 L264.2,78.0 L264.6,78.3 L264.9,78.6 L265.2,78.9 L265.6,79.3 L265.9,79.6 L266.2,79.9 L266.6,80.2 L266.9,80.6 L267.2,80.9 L267.6,81.2 L267.9,81.5 L268.2,81.9 L268.6,82.2 L268.9,82.5 L269.2,82.9 L269.6,83.2 L269.9,83.5 L270.2,83.8 L270.5,84.2 L270.9,84.5 L271.2,84.8 L271.5,85.2 L271.8,85.5 L272.2,85.8 L272.5,86.2 L272.8,86.5 L273.1,86.9 L273.5,87.2 L273.8,87.5 L274.1,87.9 L274.4,88.2 L274.7,88.5 L275.1,88.9 L275.4,89.2 L275.7,89.6 L276.0,89.9 L276.3,90.2 L276.6,90.6 L277.0,90.9 L277.3,91.3 L277.6,91.6 L277.9,91.9 L278.2,92.3 L278.5,92.6 L278.9,93.0 L279.2,93.3 L279.5,93.7 L279.8,94.0 L280.1,94.4 L280.4,94.7 L280.7,95.0 L281.0,95.4 L281.3,95.7 L281.7,96.1 L282.0,96.4 L282.3,96.8 L282.6,97.1 L282.9,97.5 L283.2,97.8 L283.5,98.2 L283.8,98.5 L284.1,98.9 L284.4,99.2 L284.7,99.6 L285.0,100.0 L285.3,100.3 L285.6,100.7 L285.9,101.0 L286.2,101.4 L286.5,101.7 L286.8,102.1 L287.1,102.4 L287.4,102.8 L287.7,103.1 L288.0,103.5 L288.3,103.9 L288.6,104.2 L288.9,104.6 L289.2,104.9 L289.5,105.3 L289.8,105.7 L290.1,106.0 L290.4,106.4 L290.7,106.7 L291.0,107.1 L291.3,107.5 L291.6,107.8 L291.8,108.2 L292.1,108.6 L292.4,108.9 L292.7,109.3 L293.0,109.7 L293.3,110.0 L293.6,110.4 L293.9,110.7 L294.2,111.1 L294.4,111.5 L294.7,111.8 L295.0,112.2 L295.3,112.6 L295.6,113.0 L295.9,113.3 L296.2,113.7 L296.4,114.1 L296.7,114.4 L297.0,114.8 L297.3,115.2 L297.6,115.5 L297.8,115.9 L298.1,116.3 L298.4,116.7 L298.7,117.0 L299.0,117.4 L299.2,117.8 L299.5,118.2 L299.8,118.5 L300.1,118.9 L300.3,119.3 L300.6,119.7 L300.9,120.0 L301.2,120.4 L301.4,120.8 L301.7,121.2 L302.0,121.5 L302.3,121.9 L302.5,122.3 L302.8,122.7 L303.1,123.1 L303.3,123.4 L303.6,123.8 L303.9,124.2 L304.2,124.6 L304.4,125.0 L304.7,125.3 L305.0,125.7 L305.2,126.1 L305.5,126.5 L305.8,126.9 L306.0,127.2 L306.3,127.6 L306.5,128.0 L306.8,128.4 L307.1,128.8 L307.3,129.2 L307.6,129.6 L307.9,129.9 L308.1,130.3 L308.4,130.7 L308.6,131.1 L308.9,131.5 L309.2,131.9 L309.4,132.3 L309.7,132.7 L309.9,133.0 L310.2,133.4 L310.4,133.8 L310.7,134.2 L311.0,134.6 L311.2,135.0 L311.5,135.4 L311.7,135.8 L312.0,136.2 L312.2,136.6 L312.5,136.9 L312.7,137.3 L313.0,137.7 L313.2,138.1 L313.5,138.5 L313.7,138.9 L314.0,139.3 L314.2,139.7 L314.5,140.1 L314.7,140.5 L315.0,140.9 L315.2,141.3 L315.5,141.7 L315.7,142.1 L316.0,142.5 L316.2,142.9 L316.5,143.3 L316.7,143.7 L316.9,144.1 L317.2,144.5 L317.4,144.9 L317.7,145.3 L317.9,145.7 L318.2,146.1 L318.4,146.5 L318.6,146.8 L318.9,147.2 L319.1,147.6 L319.4,148.1 L319.6,148.5 L319.8,148.9 L320.1,149.3 L320.3,149.7 L320.6,150.1 L320.8,150.5 L321.0,150.9 L321.3,151.3 L321.5,151.7 L321.7,152.1 L322.0,152.5 L322.2,152.9 L322.4,153.3 L322.7,153.7 L322.9,154.1 L323.1,154.5 L323.4,154.9 L323.6,155.3 L323.8,155.7 L324.1,156.1 L324.3,156.5 L324.5,156.9 L324.8,157.3 L325.0,157.7 L325.2,158.1 L325.5,158.5 L325.7,159.0 L325.9,159.4 L326.2,159.8 L326.4,160.2 L326.6,160.6 L326.8,161.0 L327.1,161.4 L327.3,161.8 L327.5,162.2 L327.7,162.6 L328.0,163.0 L328.2,163.4 L328.4,163.8 L328.6,164.3 L328.9,164.7 L329.1,165.1 L329.3,165.5 L329.5,165.9 L329.8,166.3 L330.0,166.7 L330.2,167.1 L330.4,167.5 L330.7,167.9 L330.9,168.4 L331.1,168.8 L331.3,169.2 L331.6,169.6 L331.8,170.0 L332.0,170.4 L332.2,170.8 L332.4,171.2 L332.7,171.7 L332.9,172.1 L333.1,172.5 L333.3,172.9 L333.5,173.3 L333.7,173.7 L334.0,174.1 L334.2,174.5 L334.4,175.0 L334.6,175.4 L334.8,175.8 L335.1,176.2 L335.3,176.6 L335.5,177.0 L335.7,177.4 L335.9,177.8 L336.1,178.3 L336.4,178.7 L336.6,179.1 L336.8,179.5 L337.0,179.9 L337.2,180.3 L337.4,180.7 L337.6,181.2 L337.9,181.6 L338.1,182.0 L338.3,182.4 L338.5,182.8 L338.7,183.2 L338.9,183.6 L339.1,184.1 L339.3,184.5 L339.6,184.9 L339.8,185.3 L340.0,185.7 L340.2,186.1 L340.4,186.6 L340.6,187.0 L340.8,187.4 L341.0,187.8 L341.3,188.2 L341.5,188.6 L341.7,189.0 L341.9,189.5 L342.1,189.9 L342.3,190.3 L342.5,190.7 L342.7,191.1 L342.9,191.5 L343.1,192.0 L343.4,192.4 L343.6,192.8 L343.8,193.2 L344.0,193.6 L344.2,194.0 L344.4,194.4 L344.6,194.9 L344.8,195.3 L345.0,195.7 L345.2,196.1 L345.4,196.5 L345.7,196.9 L345.9,197.4 L346.1,197.8 L346.3,198.2 L346.5,198.6 L346.7,199.0 L346.9,199.4 L347.1,199.9 L347.3,200.3 L347.5,200.7 L347.7,201.1 L347.9,201.5" fill="none" stroke="#f00" stroke-width="1.55" stroke-dasharray="8.6 7.95" stroke-dashoffset="8.10"/>
<path d="M233.7,52.8 L234.0,53.1 L234.4,53.3 L234.8,53.6 L235.2,53.9 L235.5,54.2 L235.9,54.5 L236.3,54.8 L236.7,55.1 L237.0,55.4 L237.4,55.6 L237.8,55.9 L238.1,56.2 L238.5,56.5 L238.9,56.8 L239.2,57.1 L239.6,57.4 L240.0,57.7 L240.3,58.0 L240.7,58.3 L241.1,58.6 L241.4,58.9 L241.8,59.2 L242.1,59.5 L242.5,59.8 L242.9,60.1 L243.2,60.4 L243.6,60.7 L243.9,61.0 L244.3,61.3 L244.7,61.6 L245.0,61.9 L245.4,62.2 L245.7,62.5 L246.1,62.8 L246.4,63.1 L246.8,63.4 L247.1,63.7 L247.5,64.0 L247.9,64.3 L248.2,64.6 L248.6,64.9 L248.9,65.2 L249.3,65.5 L249.6,65.8 L250.0,66.2 L250.3,66.5 L250.6,66.8 L251.0,67.1 L251.3,67.4 L251.7,67.7 L252.0,68.0 L252.4,68.3 L252.7,68.7 L253.1,69.0 L253.4,69.3 L253.8,69.6 L254.1,69.9 L254.4,70.2 L254.8,70.6 L255.1,70.9 L255.5,71.2 L255.8,71.5 L256.1,71.8 L256.5,72.2 L256.8,72.5 L257.1,72.8 L257.5,73.1 L257.8,73.4 L258.1,73.8 L258.5,74.1 L258.8,74.4 L259.1,74.7 L259.5,75.1 L259.8,75.4 L260.1,75.7 L260.5,76.0 L260.8,76.4 L261.1,76.7 L261.5,77.0 L261.8,77.4 L262.1,77.7 L262.4,78.0 L262.8,78.3 L263.1,78.7 L263.4,79.0 L263.8,79.3 L264.1,79.7 L264.4,80.0 L264.7,80.3 L265.0,80.7 L265.4,81.0 L265.7,81.3 L266.0,81.7 L266.3,82.0 L266.7,82.4 L267.0,82.7 L267.3,83.0 L267.6,83.4 L267.9,83.7 L268.2,84.0 L268.6,84.4 L268.9,84.7 L269.2,85.1 L269.5,85.4 L269.8,85.8 L270.1,86.1 L270.4,86.4 L270.8,86.8 L271.1,87.1 L271.4,87.5 L271.7,87.8 L272.0,88.2 L272.3,88.5 L272.6,88.9 L272.9,89.2 L273.2,89.5 L273.5,89.9 L273.9,90.2 L274.2,90.6 L274.5,90.9 L274.8,91.3 L275.1,91.6 L275.4,92.0 L275.7,92.3 L276.0,92.7 L276.3,93.0 L276.6,93.4 L276.9,93.7 L277.2,94.1 L277.5,94.5 L277.8,94.8 L278.1,95.2 L278.4,95.5 L278.7,95.9 L279.0,96.2 L279.3,96.6 L279.6,96.9 L279.9,97.3 L280.2,97.7 L280.5,98.0 L280.8,98.4 L281.1,98.7 L281.3,99.1 L281.6,99.5 L281.9,99.8 L282.2,100.2 L282.5,100.5 L282.8,100.9 L283.1,101.3 L283.4,101.6 L283.7,102.0 L284.0,102.4 L284.2,102.7 L284.5,103.1 L284.8,103.4 L285.1,103.8 L285.4,104.2 L285.7,104.5 L286.0,104.9 L286.2,105.3 L286.5,105.6 L286.8,106.0 L287.1,106.4 L287.4,106.8 L287.7,107.1 L287.9,107.5 L288.2,107.9 L288.5,108.2 L288.8,108.6 L289.1,109.0 L289.3,109.3 L289.6,109.7 L289.9,110.1 L290.2,110.5 L290.4,110.8 L290.7,111.2 L291.0,111.6 L291.3,112.0 L291.5,112.3 L291.8,112.7 L292.1,113.1 L292.4,113.5 L292.6,113.8 L292.9,114.2 L293.2,114.6 L293.4,115.0 L293.7,115.3 L294.0,115.7 L294.3,116.1 L294.5,116.5 L294.8,116.9 L295.1,117.2 L295.3,117.6 L295.6,118.0 L295.9,118.4 L296.1,118.8 L296.4,119.2 L296.6,119.5 L296.9,119.9 L297.2,120.3 L297.4,120.7 L297.7,121.1 L298.0,121.5 L298.2,121.8 L298.5,122.2 L298.7,122.6 L299.0,123.0 L299.3,123.4 L299.5,123.8 L299.8,124.2 L300.0,124.5 L300.3,124.9 L300.5,125.3 L300.8,125.7 L301.1,126.1 L301.3,126.5 L301.6,126.9 L301.8,127.3 L302.1,127.6 L302.3,128.0 L302.6,128.4 L302.8,128.8 L303.1,129.2 L303.3,129.6 L303.6,130.0 L303.8,130.4 L304.1,130.8 L304.3,131.2 L304.6,131.6 L304.8,132.0 L305.1,132.4 L305.3,132.8 L305.6,133.1 L305.8,133.5 L306.0,133.9 L306.3,134.3 L306.5,134.7 L306.8,135.1 L307.0,135.5 L307.3,135.9 L307.5,136.3 L307.7,136.7 L308.0,137.1 L308.2,137.5 L308.5,137.9 L308.7,138.3 L308.9,138.7 L309.2,139.1 L309.4,139.5 L309.7,139.9 L309.9,140.3 L310.1,140.7 L310.4,141.1 L310.6,141.5 L310.8,141.9 L311.1,142.3 L311.3,142.7 L311.5,143.1 L311.8,143.5 L312.0,143.9 L312.2,144.3 L312.5,144.7 L312.7,145.1 L312.9,145.5 L313.2,145.9 L313.4,146.3 L313.6,146.8 L313.9,147.2 L314.1,147.6 L314.3,148.0 L314.5,148.4 L314.8,148.8 L315.0,149.2 L315.2,149.6 L315.5,150.0 L315.7,150.4 L315.9,150.8 L316.1,151.2 L316.4,151.6 L316.6,152.0 L316.8,152.4 L317.0,152.9 L317.3,153.3 L317.5,153.7 L317.7,154.1 L317.9,154.5 L318.2,154.9 L318.4,155.3 L318.6,155.7 L318.8,156.1 L319.0,156.5 L319.3,157.0 L319.5,157.4 L319.7,157.8 L319.9,158.2 L320.1,158.6 L320.4,159.0 L320.6,159.4 L320.8,159.8 L321.0,160.2 L321.2,160.7 L321.4,161.1 L321.7,161.5 L321.9,161.9 L322.1,162.3 L322.3,162.7 L322.5,163.1 L322.7,163.5 L323.0,164.0 L323.2,164.4 L323.4,164.8 L323.6,165.2 L323.8,165.6 L324.0,166.0 L324.2,166.4 L324.5,166.9 L324.7,167.3 L324.9,167.7 L325.1,168.1 L325.3,168.5 L325.5,168.9 L325.7,169.3 L325.9,169.8 L326.2,170.2 L326.4,170.6 L326.6,171.0 L326.8,171.4 L327.0,171.8 L327.2,172.3 L327.4,172.7 L327.6,173.1 L327.8,173.5 L328.0,173.9 L328.2,174.3 L328.5,174.8 L328.7,175.2 L328.9,175.6 L329.1,176.0 L329.3,176.4 L329.5,176.8 L329.7,177.3 L329.9,177.7 L330.1,178.1 L330.3,178.5 L330.5,178.9 L330.7,179.3 L330.9,179.8 L331.1,180.2 L331.3,180.6 L331.5,181.0 L331.7,181.4 L332.0,181.9 L332.2,182.3 L332.4,182.7 L332.6,183.1 L332.8,183.5 L333.0,183.9 L333.2,184.4 L333.4,184.8 L333.6,185.2 L333.8,185.6 L334.0,186.0 L334.2,186.5 L334.4,186.9 L334.6,187.3 L334.8,187.7 L335.0,188.1 L335.2,188.6 L335.4,189.0 L335.6,189.4 L335.8,189.8 L336.0,190.2 L336.2,190.7 L336.4,191.1 L336.6,191.5 L336.8,191.9 L337.0,192.3 L337.2,192.7 L337.4,193.2 L337.6,193.6 L337.8,194.0 L338.0,194.4 L338.2,194.8 L338.4,195.3 L338.6,195.7 L338.8,196.1 L339.0,196.5 L339.2,196.9 L339.4,197.4 L339.6,197.8 L339.8,198.2 L340.0,198.6 L340.2,199.0 L340.4,199.5 L340.6,199.9 L340.8,200.3 L341.0,200.7 L341.2,201.1 L341.4,201.5" fill="none" stroke="#00f" stroke-width="1.55" stroke-dasharray="8.6 7.95" stroke-dashoffset="8.69"/>
<path d="M296.0,202.3 L296.0,202.3 L296.0,202.2 L296.1,202.1 L296.2,202.0 L296.2,201.7 L296.4,201.5 L296.5,201.2 L296.6,200.8 L296.8,200.4 L297.0,200.0 L297.2,199.5 L297.4,199.0 L297.7,198.4 L297.9,197.8 L298.2,197.1 L298.5,196.4 L298.9,195.6 L299.2,194.8 L299.6,194.0 L300.0,193.1 L300.4,192.2 L300.8,191.3 L301.2,190.3 L301.7,189.3 L302.2,188.2 L302.7,187.1 L303.2,186.0 L303.8,184.8 L304.3,183.6 L304.9,182.4 L305.5,181.1 L306.1,179.8 L306.8,178.5 L307.4,177.1 L308.1,175.7 L308.8,174.3 L309.5,172.9 L310.3,171.5 L311.0,170.0 L311.8,168.5 L312.6,167.0 L313.4,165.4 L314.3,163.8 L315.1,162.3 L316.0,160.7 L316.9,159.1 L317.8,157.4 L318.8,155.8 L319.7,154.1 L320.7,152.5 L321.7,150.8 L322.7,149.1 L323.8,147.4 L324.8,145.7 L325.9,143.9 L327.0,142.2 L328.1,140.5 L329.3,138.7 L330.4,137.0 L331.6,135.3 L332.8,133.5 L334.0,131.8 L335.2,130.0 L336.5,128.2 L337.8,126.5 L339.1,124.7 L340.4,123.0 L341.7,121.2 L343.1,119.5 L344.4,117.8 L345.8,116.0 L347.3,114.3 L348.7,112.6 L350.1,110.9 L351.6,109.2 L353.1,107.5 L354.6,105.8 L356.1,104.1 L357.7,102.4 L359.3,100.7 L360.9,99.1 L362.5,97.4 L364.1,95.8 L365.8,94.2 L367.4,92.6 L369.1,91.0 L370.8,89.4 L372.6,87.8 L374.3,86.3 L376.1,84.7 L377.9,83.2 L379.7,81.7 L381.5,80.2 L383.4,78.7 L385.2,77.3 L387.1,75.8 L389.0,74.4 L390.9,73.0 L392.9,71.6 L394.9,70.2 L396.9,68.9 L398.9,67.5 L400.9,66.2 L402.9,64.9 L405.0,63.6 L407.1,62.3 L409.2,61.1 L411.3,59.9 L413.5,58.6 L415.6,57.5 L417.8,56.3 L420.0,55.1 L422.2,54.0 L424.5,52.9 L426.7,51.8 L429.0,50.7 L431.3,49.7 L433.7,48.7 L436.0,47.6" fill="none" stroke="#f00" stroke-width="1.55"/>
<path d="M289.0,201.5 L289.0,201.4 L289.0,201.4 L289.1,201.2 L289.2,201.1 L289.3,200.8 L289.4,200.5 L289.5,200.2 L289.7,199.8 L289.8,199.4 L290.0,198.9 L290.3,198.3 L290.5,197.7 L290.8,197.1 L291.0,196.4 L291.3,195.6 L291.7,194.9 L292.0,194.0 L292.4,193.2 L292.7,192.2 L293.2,191.3 L293.6,190.3 L294.0,189.2 L294.5,188.1 L295.0,187.0 L295.5,185.8 L296.0,184.6 L296.6,183.3 L297.1,182.1 L297.7,180.7 L298.3,179.4 L299.0,178.0 L299.6,176.6 L300.3,175.1 L301.0,173.6 L301.7,172.1 L302.5,170.6 L303.2,169.0 L304.0,167.5 L304.8,165.8 L305.6,164.2 L306.4,162.6 L307.3,160.9 L308.2,159.2 L309.1,157.5 L310.0,155.8 L311.0,154.0 L311.9,152.3 L312.9,150.5 L313.9,148.7 L315.0,146.9 L316.0,145.1 L317.1,143.3 L318.2,141.5 L319.3,139.6 L320.4,137.8 L321.6,136.0 L322.7,134.1 L323.9,132.3 L325.1,130.4 L326.4,128.6 L327.6,126.7 L328.9,124.9 L330.2,123.0 L331.5,121.2 L332.9,119.4 L334.2,117.5 L335.6,115.7 L337.0,113.9 L338.4,112.0 L339.9,110.2 L341.3,108.4 L342.8,106.6 L344.3,104.8 L345.8,103.1 L347.4,101.3 L349.0,99.6 L350.5,97.8 L352.2,96.1 L353.8,94.4 L355.4,92.7 L357.1,91.0 L358.8,89.3 L360.5,87.6 L362.2,86.0 L364.0,84.4 L365.8,82.8 L367.6,81.2 L369.4,79.6 L371.2,78.0 L373.1,76.5 L375.0,75.0 L376.9,73.5 L378.8,72.0 L380.7,70.5 L382.7,69.1 L384.7,67.6 L386.7,66.2 L388.7,64.8 L390.7,63.5 L392.8,62.1 L394.9,60.8 L397.0,59.5 L399.1,58.2 L401.3,57.0 L403.4,55.7 L405.6,54.5 L407.8,53.3 L410.1,52.1 L412.3,51.0 L414.6,49.9 L416.9,48.8 L419.2,47.7 L421.6,46.6 L423.9,45.6 L426.3,44.6 L428.7,43.6 L431.1,42.6 L433.5,41.7 L436.0,40.7" fill="none" stroke="#00f" stroke-width="1.55"/>
</g>
<g clip-path="url(#cR)">
<path d="M496.9,200.2 L496.0,197.6 L495.2,195.1 L494.4,192.6 L493.6,190.2 L492.8,187.8 L492.0,185.4 L491.2,183.0 L490.4,180.7 L489.6,178.3 L488.8,176.0 L488.0,173.7 L487.3,171.3 L486.5,169.0 L485.7,166.6 L485.0,164.2 L484.3,161.8 L483.5,159.4 L482.8,156.9 L482.1,154.4 L481.4,151.9 L480.8,149.4 L480.2,146.8 L479.7,144.2 L479.3,141.6 L479.0,139.1 L478.9,136.5 L478.9,133.9 L479.0,131.3 L479.4,128.7 L480.0,126.2 L480.7,123.6 L481.7,121.2 L482.9,118.8 L484.3,116.7 L485.9,114.9 L487.6,113.5 L489.5,112.4 L491.5,111.7 L493.6,111.3 L495.9,111.2 L498.2,111.4 L500.5,111.8 L502.9,112.5 L505.4,113.3 L507.8,114.3 L510.2,115.5 L512.7,116.8 L515.0,118.2 L517.3,119.7 L519.6,121.2 L521.8,122.8 L523.9,124.3 L526.0,125.9 L528.1,127.4 L530.1,128.8 L532.2,130.1 L534.3,131.3 L536.4,132.4 L538.5,133.3 L540.7,134.1 L543.0,134.6 L545.3,134.9 L547.8,134.9 L550.3,134.7 L552.8,134.3 L555.5,133.9 L558.1,133.3 L560.8,132.8 L563.4,132.3 L566.0,131.9 L568.5,131.8 L571.0,131.9 L573.4,132.2 L575.8,132.8 L578.1,133.6 L580.3,134.5 L582.5,135.6 L584.6,136.8 L586.8,138.1 L588.8,139.5 L590.9,140.9 L592.9,142.5 L594.8,144.1 L596.8,145.8 L598.7,147.6 L600.6,149.3 L602.4,151.2 L604.3,153.0 L606.1,154.9 L607.9,156.7 L609.6,158.6 L611.3,160.5 L613.0,162.3 L614.7,164.3 L616.3,166.2 L617.9,168.1 L619.4,170.1 L620.8,172.1 L622.2,174.2 L623.5,176.3 L624.8,178.4 L626.0,180.6 L627.1,182.8 L628.1,185.1 L629.0,187.5 L629.8,189.9 L630.6,192.4 L631.2,194.9 L631.7,197.5 L632.2,200.2Z" fill="#F3AEA7"/>
<path d="M509.3,200.0 L509.3,197.5 L509.2,194.9 L508.9,192.4 L508.5,189.9 L508.0,187.4 L507.5,184.9 L507.0,182.4 L506.4,179.8 L505.9,177.3 L505.5,174.7 L505.1,172.2 L504.8,169.6 L504.7,166.9 L504.7,164.3 L504.9,161.6 L505.2,158.8 L505.9,156.2 L506.8,153.9 L508.2,152.1 L509.9,150.9 L512.0,150.4 L514.4,150.4 L516.9,150.8 L519.4,151.4 L521.9,152.1 L524.3,152.9 L526.7,153.8 L529.0,154.9 L531.3,156.1 L533.5,157.3 L535.7,158.7 L537.8,160.1 L539.9,161.7 L542.0,163.3 L544.0,164.9 L545.9,166.7 L547.8,168.5 L549.6,170.4 L551.4,172.3 L553.1,174.3 L554.8,176.3 L556.4,178.4 L558.0,180.4 L559.5,182.5 L560.9,184.7 L562.3,186.8 L563.6,189.0 L564.9,191.1 L566.1,193.3 L567.3,195.4 L568.4,197.5 L569.4,199.7Z" fill="#E03424"/>
<path d="M501.1,200.1 L500.1,197.6 L499.2,195.2 L498.2,192.7 L497.3,190.3 L496.3,188.0 L495.3,185.6 L494.3,183.2 L493.4,180.9 L492.4,178.6 L491.4,176.2 L490.4,173.9 L489.5,171.6 L488.5,169.3 L487.6,167.0 L486.7,164.7 L485.8,162.3 L484.9,160.0 L484.0,157.7 L483.2,155.3 L482.4,153.0 L481.6,150.6 L480.8,148.2 L480.1,145.8 L479.4,143.4 L478.7,141.0 L478.0,138.5 L477.4,136.0 L476.9,133.5 L476.4,131.0 L475.9,128.4 L475.5,125.8 L475.1,123.1 L474.8,120.5 L474.5,117.8 L474.4,115.2 L474.4,112.5 L474.5,109.9 L474.8,107.3 L475.2,104.8 L475.9,102.4 L476.7,100.1 L477.8,98.0 L479.1,96.2 L480.8,94.7 L482.6,93.5 L484.7,92.5 L486.9,91.7 L489.2,91.2 L491.7,90.8 L494.2,90.7 L496.7,90.7 L499.3,90.8 L501.8,91.1 L504.3,91.5 L506.8,92.1 L509.3,92.7 L511.8,93.5 L514.2,94.4 L516.6,95.4 L519.0,96.4 L521.4,97.6 L523.7,98.8 L526.0,100.1 L528.3,101.4 L530.5,102.8 L532.7,104.3 L534.9,105.8 L537.0,107.3 L539.0,108.8 L541.1,110.3 L543.0,111.9 L544.9,113.5 L546.8,115.1 L548.5,116.7 L550.2,118.5 L551.9,120.3 L553.4,122.1 L554.9,124.1 L556.3,126.2 L557.6,128.3 L558.9,130.5 L560.1,132.8 L561.3,135.0 L562.6,137.3 L563.8,139.5 L565.1,141.7 L566.4,143.9 L567.7,146.2 L569.0,148.4 L570.3,150.6 L571.6,152.8 L572.9,154.9 L574.2,157.1 L575.5,159.3 L576.7,161.5 L578.0,163.7 L579.3,165.9 L580.6,168.1 L581.8,170.3 L583.0,172.5 L584.3,174.8 L585.5,177.0 L586.6,179.2 L587.8,181.5 L588.9,183.7 L590.0,186.0 L591.1,188.3 L592.2,190.6 L593.2,192.9 L594.2,195.2 L595.2,197.6 L596.1,200.0Z M513.2,200.1 L512.3,197.6 L511.4,195.0 L510.5,192.6 L509.7,190.1 L508.8,187.7 L508.0,185.4 L507.1,183.0 L506.4,180.6 L505.6,178.3 L504.8,175.9 L504.1,173.5 L503.4,171.1 L502.7,168.6 L502.0,166.1 L501.3,163.5 L500.7,160.9 L500.1,158.2 L499.6,155.5 L499.2,152.7 L498.9,150.0 L498.9,147.4 L499.2,144.9 L499.9,142.6 L500.9,140.5 L502.4,138.7 L504.2,137.2 L506.2,136.1 L508.3,135.4 L510.5,135.3 L512.7,135.6 L515.0,136.3 L517.3,137.3 L519.6,138.6 L521.9,140.2 L524.2,141.9 L526.5,143.7 L528.6,145.6 L530.7,147.6 L532.7,149.5 L534.6,151.3 L536.5,153.1 L538.2,154.8 L539.9,156.6 L541.6,158.3 L543.2,160.1 L544.8,162.0 L546.4,163.9 L548.0,165.9 L549.6,167.9 L551.1,170.0 L552.6,172.2 L554.1,174.3 L555.5,176.6 L556.9,178.8 L558.2,181.1 L559.5,183.4 L560.7,185.7 L561.8,188.1 L562.8,190.4 L563.8,192.8 L564.7,195.2 L565.4,197.6 L566.1,199.9Z" fill="#99C5F8" fill-opacity="0.85" fill-rule="evenodd"/>
<path d="M513.2,200.1 L512.3,197.6 L511.4,195.0 L510.5,192.6 L509.7,190.1 L508.8,187.7 L508.0,185.4 L507.1,183.0 L506.4,180.6 L505.6,178.3 L504.8,175.9 L504.1,173.5 L503.4,171.1 L502.7,168.6 L502.0,166.1 L501.3,163.5 L500.7,160.9 L500.1,158.2 L499.6,155.5 L499.2,152.7 L498.9,150.0 L498.9,147.4 L499.2,144.9 L499.9,142.6 L500.9,140.5 L502.4,138.7 L504.2,137.2 L506.2,136.1 L508.3,135.4 L510.5,135.3 L512.7,135.6 L515.0,136.3 L517.3,137.3 L519.6,138.6 L521.9,140.2 L524.2,141.9 L526.5,143.7 L528.6,145.6 L530.7,147.6 L532.7,149.5 L534.6,151.3 L536.5,153.1 L538.2,154.8 L539.9,156.6 L541.6,158.3 L543.2,160.1 L544.8,162.0 L546.4,163.9 L548.0,165.9 L549.6,167.9 L551.1,170.0 L552.6,172.2 L554.1,174.3 L555.5,176.6 L556.9,178.8 L558.2,181.1 L559.5,183.4 L560.7,185.7 L561.8,188.1 L562.8,190.4 L563.8,192.8 L564.7,195.2 L565.4,197.6 L566.1,199.9Z" fill="#006FED" fill-opacity="0.85"/>
<path d="M496.9,200.2 L496.0,197.6 L495.2,195.1 L494.4,192.6 L493.6,190.2 L492.8,187.8 L492.0,185.4 L491.2,183.0 L490.4,180.7 L489.6,178.3 L488.8,176.0 L488.0,173.7 L487.3,171.3 L486.5,169.0 L485.7,166.6 L485.0,164.2 L484.3,161.8 L483.5,159.4 L482.8,156.9 L482.1,154.4 L481.4,151.9 L480.8,149.4 L480.2,146.8 L479.7,144.2 L479.3,141.6 L479.0,139.1 L478.9,136.5 L478.9,133.9 L479.0,131.3 L479.4,128.7 L480.0,126.2 L480.7,123.6 L481.7,121.2 L482.9,118.8 L484.3,116.7 L485.9,114.9 L487.6,113.5 L489.5,112.4 L491.5,111.7 L493.6,111.3 L495.9,111.2 L498.2,111.4 L500.5,111.8 L502.9,112.5 L505.4,113.3 L507.8,114.3 L510.2,115.5 L512.7,116.8 L515.0,118.2 L517.3,119.7 L519.6,121.2 L521.8,122.8 L523.9,124.3 L526.0,125.9 L528.1,127.4 L530.1,128.8 L532.2,130.1 L534.3,131.3 L536.4,132.4 L538.5,133.3 L540.7,134.1 L543.0,134.6 L545.3,134.9 L547.8,134.9 L550.3,134.7 L552.8,134.3 L555.5,133.9 L558.1,133.3 L560.8,132.8 L563.4,132.3 L566.0,131.9 L568.5,131.8 L571.0,131.9 L573.4,132.2 L575.8,132.8 L578.1,133.6 L580.3,134.5 L582.5,135.6 L584.6,136.8 L586.8,138.1 L588.8,139.5 L590.9,140.9 L592.9,142.5 L594.8,144.1 L596.8,145.8 L598.7,147.6 L600.6,149.3 L602.4,151.2 L604.3,153.0 L606.1,154.9 L607.9,156.7 L609.6,158.6 L611.3,160.5 L613.0,162.3 L614.7,164.3 L616.3,166.2 L617.9,168.1 L619.4,170.1 L620.8,172.1 L622.2,174.2 L623.5,176.3 L624.8,178.4 L626.0,180.6 L627.1,182.8 L628.1,185.1 L629.0,187.5 L629.8,189.9 L630.6,192.4 L631.2,194.9 L631.7,197.5 L632.2,200.2Z" fill="none" stroke="#E03424" stroke-width="1.05"/>
<path d="M501.1,200.1 L500.1,197.6 L499.2,195.2 L498.2,192.7 L497.3,190.3 L496.3,188.0 L495.3,185.6 L494.3,183.2 L493.4,180.9 L492.4,178.6 L491.4,176.2 L490.4,173.9 L489.5,171.6 L488.5,169.3 L487.6,167.0 L486.7,164.7 L485.8,162.3 L484.9,160.0 L484.0,157.7 L483.2,155.3 L482.4,153.0 L481.6,150.6 L480.8,148.2 L480.1,145.8 L479.4,143.4 L478.7,141.0 L478.0,138.5 L477.4,136.0 L476.9,133.5 L476.4,131.0 L475.9,128.4 L475.5,125.8 L475.1,123.1 L474.8,120.5 L474.5,117.8 L474.4,115.2 L474.4,112.5 L474.5,109.9 L474.8,107.3 L475.2,104.8 L475.9,102.4 L476.7,100.1 L477.8,98.0 L479.1,96.2 L480.8,94.7 L482.6,93.5 L484.7,92.5 L486.9,91.7 L489.2,91.2 L491.7,90.8 L494.2,90.7 L496.7,90.7 L499.3,90.8 L501.8,91.1 L504.3,91.5 L506.8,92.1 L509.3,92.7 L511.8,93.5 L514.2,94.4 L516.6,95.4 L519.0,96.4 L521.4,97.6 L523.7,98.8 L526.0,100.1 L528.3,101.4 L530.5,102.8 L532.7,104.3 L534.9,105.8 L537.0,107.3 L539.0,108.8 L541.1,110.3 L543.0,111.9 L544.9,113.5 L546.8,115.1 L548.5,116.7 L550.2,118.5 L551.9,120.3 L553.4,122.1 L554.9,124.1 L556.3,126.2 L557.6,128.3 L558.9,130.5 L560.1,132.8 L561.3,135.0 L562.6,137.3 L563.8,139.5 L565.1,141.7 L566.4,143.9 L567.7,146.2 L569.0,148.4 L570.3,150.6 L571.6,152.8 L572.9,154.9 L574.2,157.1 L575.5,159.3 L576.7,161.5 L578.0,163.7 L579.3,165.9 L580.6,168.1 L581.8,170.3 L583.0,172.5 L584.3,174.8 L585.5,177.0 L586.6,179.2 L587.8,181.5 L588.9,183.7 L590.0,186.0 L591.1,188.3 L592.2,190.6 L593.2,192.9 L594.2,195.2 L595.2,197.6 L596.1,200.0Z" fill="none" stroke="#006FED" stroke-width="1.05"/>
<path d="M506.5,201.8 L506.9,201.5 L507.2,201.2 L507.6,200.9 L507.9,200.6 L508.3,200.3 L508.6,200.0 L509.0,199.7 L509.3,199.4 L509.7,199.1 L510.0,198.8 L510.4,198.5 L510.8,198.2 L511.1,197.8 L511.5,197.5 L511.8,197.2 L512.2,196.9 L512.5,196.6 L512.9,196.3 L513.2,196.0 L513.6,195.7 L513.9,195.4 L514.3,195.1 L514.6,194.8 L515.0,194.5 L515.4,194.2 L515.7,193.9 L516.1,193.6 L516.4,193.3 L516.8,193.0 L517.1,192.7 L517.5,192.4 L517.8,192.1 L518.2,191.8 L518.5,191.5 L518.9,191.2 L519.3,190.9 L519.6,190.5 L520.0,190.2 L520.3,189.9 L520.7,189.6 L521.0,189.3 L521.4,189.0 L521.7,188.7 L522.1,188.4 L522.4,188.1 L522.8,187.8 L523.2,187.5 L523.5,187.2 L523.9,186.9 L524.2,186.6 L524.6,186.3 L524.9,186.0 L525.3,185.7 L525.6,185.4 L526.0,185.1 L526.3,184.8 L526.7,184.5 L527.1,184.2 L527.4,183.9 L527.8,183.6 L528.1,183.3 L528.5,183.0 L528.8,182.6 L529.2,182.3 L529.5,182.0 L529.9,181.7 L530.2,181.4 L530.6,181.1 L531.0,180.8 L531.3,180.5 L531.7,180.2 L532.0,179.9 L532.4,179.6 L532.7,179.3 L533.1,179.0 L533.4,178.7 L533.8,178.4 L534.1,178.1 L534.5,177.8 L534.9,177.5 L535.2,177.2 L535.6,176.9 L535.9,176.6 L536.3,176.3 L536.6,176.0 L537.0,175.7 L537.3,175.4 L537.7,175.1 L538.0,174.7 L538.4,174.4 L538.8,174.1 L539.1,173.8 L539.5,173.5 L539.8,173.2 L540.2,172.9 L540.5,172.6 L540.9,172.3 L541.2,172.0 L541.6,171.7 L541.9,171.4 L542.3,171.1 L542.7,170.8 L543.0,170.5 L543.4,170.2 L543.7,169.9 L544.1,169.6 L544.4,169.3 L544.8,169.0 L545.1,168.7 L545.5,168.4 L545.8,168.1 L546.2,167.8 L546.6,167.5 L546.9,167.2 L547.3,166.8 L547.6,166.5 L548.0,166.2 L548.3,165.9 L548.7,165.6 L549.0,165.3 L549.4,165.0 L549.7,164.7 L550.1,164.4 L550.5,164.1 L550.8,163.8 L551.2,163.5 L551.5,163.2 L551.9,162.9 L552.2,162.6 L552.6,162.3 L552.9,162.0 L553.3,161.7 L553.7,161.4 L554.0,161.1 L554.4,160.8 L554.7,160.5 L555.1,160.2 L555.4,159.9 L555.8,159.6 L556.1,159.3 L556.5,159.0 L556.8,158.6 L557.2,158.3 L557.6,158.0 L557.9,157.7 L558.3,157.4 L558.6,157.1 L559.0,156.8 L559.3,156.5 L559.7,156.2 L560.0,155.9 L560.4,155.6 L560.7,155.3 L561.1,155.0 L561.5,154.7 L561.8,154.4 L562.2,154.1 L562.5,153.8 L562.9,153.5 L563.2,153.2 L563.6,152.9 L563.9,152.6 L564.3,152.3 L564.6,152.0 L565.0,151.7 L565.4,151.4 L565.7,151.1 L566.1,150.8 L566.4,150.5 L566.8,150.1 L567.1,149.8 L567.5,149.5 L567.8,149.2 L568.2,148.9 L568.6,148.6 L568.9,148.3 L569.3,148.0 L569.6,147.7 L570.0,147.4 L570.3,147.1 L570.7,146.8 L571.0,146.5 L571.4,146.2 L571.7,145.9 L572.1,145.6 L572.5,145.3 L572.8,145.0 L573.2,144.7 L573.5,144.4 L573.9,144.1 L574.2,143.8 L574.6,143.5 L574.9,143.2 L575.3,142.9 L575.6,142.6 L576.0,142.3 L576.4,141.9 L576.7,141.6 L577.1,141.3 L577.4,141.0 L577.8,140.7 L578.1,140.4 L578.5,140.1 L578.8,139.8 L579.2,139.5 L579.5,139.2 L579.9,138.9 L580.3,138.6 L580.6,138.3 L581.0,138.0 L581.3,137.7 L581.7,137.4 L582.0,137.1 L582.4,136.8 L582.7,136.5 L583.1,136.2 L583.5,135.9 L583.8,135.6 L584.2,135.3 L584.5,135.0 L584.9,134.7 L585.2,134.4 L585.6,134.1 L585.9,133.8 L586.3,133.4 L586.6,133.1 L587.0,132.8 L587.4,132.5 L587.7,132.2 L588.1,131.9 L588.4,131.6 L588.8,131.3 L589.1,131.0 L589.5,130.7 L589.8,130.4 L590.2,130.1 L590.5,129.8 L590.9,129.5 L591.3,129.2 L591.6,128.9 L592.0,128.6 L592.3,128.3 L592.7,128.0 L593.0,127.7 L593.4,127.4 L593.7,127.1 L594.1,126.8 L594.4,126.5 L594.8,126.2 L595.2,125.9 L595.5,125.6 L595.9,125.3 L596.2,124.9 L596.6,124.6 L596.9,124.3 L597.3,124.0 L597.6,123.7 L598.0,123.4 L598.4,123.1 L598.7,122.8 L599.1,122.5 L599.4,122.2 L599.8,121.9 L600.1,121.6 L600.5,121.3 L600.8,121.0 L601.2,120.7 L601.5,120.4 L601.9,120.1 L602.3,119.8 L602.6,119.5 L603.0,119.2 L603.3,118.9 L603.7,118.6 L604.0,118.3 L604.4,118.0 L604.7,117.7 L605.1,117.4 L605.4,117.1 L605.8,116.7 L606.2,116.4 L606.5,116.1 L606.9,115.8 L607.2,115.5 L607.6,115.2 L607.9,114.9 L608.3,114.6 L608.6,114.3 L609.0,114.0 L609.3,113.7 L609.7,113.4 L610.1,113.1 L610.4,112.8 L610.8,112.5 L611.1,112.2 L611.5,111.9 L611.8,111.6 L612.2,111.3 L612.5,111.0 L612.9,110.7 L613.2,110.4 L613.6,110.1 L614.0,109.8 L614.3,109.5 L614.7,109.2 L615.0,108.9 L615.4,108.6 L615.7,108.2 L616.1,107.9 L616.4,107.6 L616.8,107.3 L617.2,107.0 L617.5,106.7 L617.9,106.4 L618.2,106.1 L618.6,105.8 L618.9,105.5 L619.3,105.2 L619.6,104.9 L620.0,104.6 L620.3,104.3 L620.7,104.0 L621.1,103.7 L621.4,103.4 L621.8,103.1 L622.1,102.8 L622.5,102.5 L622.8,102.2 L623.2,101.9 L623.5,101.6 L623.9,101.3 L624.2,101.0 L624.6,100.7 L625.0,100.4 L625.3,100.0 L625.7,99.7 L626.0,99.4 L626.4,99.1 L626.7,98.8 L627.1,98.5 L627.4,98.2 L627.8,97.9 L628.1,97.6 L628.5,97.3 L628.9,97.0 L629.2,96.7 L629.6,96.4 L629.9,96.1 L630.3,95.8 L630.6,95.5 L631.0,95.2 L631.3,94.9 L631.7,94.6 L632.0,94.3 L632.4,94.0 L632.8,93.7 L633.1,93.4 L633.5,93.1 L633.8,92.8 L634.2,92.5 L634.5,92.1 L634.9,91.8 L635.2,91.5 L635.6,91.2 L635.9,90.9 L636.3,90.6 L636.7,90.3 L637.0,90.0 L637.4,89.7 L637.7,89.4 L638.1,89.1 L638.4,88.8 L638.8,88.5 L639.1,88.2 L639.5,87.9 L639.8,87.6 L640.2,87.3 L640.6,87.0 L640.9,86.7 L641.3,86.4 L641.6,86.1 L642.0,85.8 L642.3,85.5 L642.7,85.2 L643.0,84.9 L643.4,84.6 L643.7,84.2 L644.1,83.9 L644.5,83.6 L644.8,83.3 L645.2,83.0 L645.5,82.7 L645.9,82.4 L646.2,82.1 L646.6,81.8 L646.9,81.5 L647.3,81.2 L647.6,80.9 L648.0,80.6" fill="none" stroke="#f00" stroke-width="1.55" stroke-dasharray="8.6 7.95" stroke-dashoffset="10.58"/>
<path d="M500.5,201.7 L500.9,201.2 L501.2,200.7 L501.6,200.2 L502.0,199.7 L502.3,199.2 L502.7,198.7 L503.1,198.2 L503.4,197.7 L503.8,197.2 L504.1,196.7 L504.5,196.2 L504.9,195.7 L505.2,195.2 L505.6,194.7 L506.0,194.2 L506.3,193.7 L506.7,193.2 L507.1,192.7 L507.4,192.2 L507.8,191.7 L508.2,191.2 L508.5,190.7 L508.9,190.2 L509.2,189.7 L509.6,189.2 L510.0,188.7 L510.3,188.2 L510.7,187.7 L511.1,187.2 L511.4,186.8 L511.8,186.3 L512.2,185.8 L512.5,185.3 L512.9,184.8 L513.3,184.3 L513.6,183.8 L514.0,183.3 L514.4,182.8 L514.7,182.3 L515.1,181.8 L515.5,181.3 L515.8,180.8 L516.2,180.3 L516.5,179.8 L516.9,179.3 L517.3,178.8 L517.6,178.3 L518.0,177.8 L518.4,177.3 L518.7,176.8 L519.1,176.3 L519.5,175.8 L519.8,175.3 L520.2,174.8 L520.6,174.3 L520.9,173.8 L521.3,173.3 L521.7,172.8 L522.0,172.3 L522.4,171.8 L522.8,171.3 L523.1,170.8 L523.5,170.3 L523.8,169.8 L524.2,169.3 L524.6,168.8 L524.9,168.3 L525.3,167.8 L525.7,167.3 L526.0,166.8 L526.4,166.3 L526.8,165.8 L527.1,165.3 L527.5,164.8 L527.9,164.3 L528.2,163.8 L528.6,163.3 L529.0,162.8 L529.3,162.3 L529.7,161.9 L530.1,161.4 L530.4,160.9 L530.8,160.4 L531.1,159.9 L531.5,159.4 L531.9,158.9 L532.2,158.4 L532.6,157.9 L533.0,157.4 L533.3,156.9 L533.7,156.4 L534.1,155.9 L534.4,155.4 L534.8,154.9 L535.2,154.4 L535.5,153.9 L535.9,153.4 L536.3,152.9 L536.6,152.4 L537.0,151.9 L537.4,151.4 L537.7,150.9 L538.1,150.4 L538.5,149.9 L538.8,149.4 L539.2,148.9 L539.6,148.4 L539.9,147.9 L540.3,147.4 L540.6,146.9 L541.0,146.4 L541.4,145.9 L541.7,145.4 L542.1,144.9 L542.5,144.4 L542.8,143.9 L543.2,143.4 L543.6,142.9 L543.9,142.4 L544.3,141.9 L544.7,141.4 L545.0,140.9 L545.4,140.4 L545.8,140.0 L546.1,139.5 L546.5,139.0 L546.9,138.5 L547.2,138.0 L547.6,137.5 L548.0,137.0 L548.3,136.5 L548.7,136.0 L549.1,135.5 L549.4,135.0 L549.8,134.5 L550.1,134.0 L550.5,133.5 L550.9,133.0 L551.2,132.5 L551.6,132.0 L552.0,131.5 L552.3,131.0 L552.7,130.5 L553.1,130.0 L553.4,129.5 L553.8,129.0 L554.2,128.5 L554.5,128.0 L554.9,127.5 L555.3,127.0 L555.6,126.5 L556.0,126.0 L556.4,125.5 L556.7,125.0 L557.1,124.5 L557.5,124.0 L557.8,123.5 L558.2,123.0 L558.6,122.5 L558.9,122.0 L559.3,121.5 L559.6,121.0 L560.0,120.5 L560.4,120.0 L560.7,119.5 L561.1,119.0 L561.5,118.5 L561.8,118.1 L562.2,117.6 L562.6,117.1 L562.9,116.6 L563.3,116.1 L563.7,115.6 L564.0,115.1 L564.4,114.6 L564.8,114.1 L565.1,113.6 L565.5,113.1 L565.9,112.6 L566.2,112.1 L566.6,111.6 L567.0,111.1 L567.3,110.6 L567.7,110.1 L568.1,109.6 L568.4,109.1 L568.8,108.6 L569.1,108.1 L569.5,107.6 L569.9,107.1 L570.2,106.6 L570.6,106.1 L571.0,105.6 L571.3,105.1 L571.7,104.6 L572.1,104.1 L572.4,103.6 L572.8,103.1 L573.2,102.6 L573.5,102.1 L573.9,101.6 L574.3,101.1 L574.6,100.6 L575.0,100.1 L575.4,99.6 L575.7,99.1 L576.1,98.6 L576.5,98.1 L576.8,97.6 L577.2,97.1 L577.5,96.6 L577.9,96.1 L578.3,95.7 L578.6,95.2 L579.0,94.7 L579.4,94.2 L579.7,93.7 L580.1,93.2 L580.5,92.7 L580.8,92.2 L581.2,91.7 L581.6,91.2 L581.9,90.7 L582.3,90.2 L582.7,89.7 L583.0,89.2 L583.4,88.7 L583.8,88.2 L584.1,87.7 L584.5,87.2 L584.9,86.7 L585.2,86.2 L585.6,85.7 L585.9,85.2 L586.3,84.7 L586.7,84.2 L587.0,83.7 L587.4,83.2 L587.8,82.7 L588.1,82.2 L588.5,81.7 L588.9,81.2 L589.2,80.7 L589.6,80.2 L590.0,79.7 L590.3,79.2 L590.7,78.7 L591.1,78.2 L591.4,77.7 L591.8,77.2 L592.2,76.7 L592.5,76.2 L592.9,75.7 L593.2,75.2 L593.6,74.7 L594.0,74.2 L594.3,73.7 L594.7,73.2 L595.1,72.7 L595.4,72.2 L595.8,71.7 L596.2,71.2 L596.5,70.8 L596.9,70.3 L597.3,69.8 L597.6,69.3 L598.0,68.8 L598.4,68.3 L598.7,67.8 L599.1,67.3 L599.4,66.8 L599.8,66.3 L600.2,65.8 L600.5,65.3 L600.9,64.8 L601.3,64.3 L601.6,63.8 L602.0,63.3 L602.4,62.8 L602.7,62.3 L603.1,61.8 L603.5,61.3 L603.8,60.8 L604.2,60.3 L604.6,59.8 L604.9,59.3 L605.3,58.8 L605.6,58.3 L606.0,57.8 L606.4,57.3 L606.7,56.8 L607.1,56.3 L607.5,55.8 L607.8,55.3 L608.2,54.8 L608.6,54.3 L608.9,53.8 L609.3,53.3 L609.7,52.8 L610.0,52.3 L610.4,51.8 L610.7,51.3 L611.1,50.8 L611.5,50.3 L611.8,49.8 L612.2,49.3 L612.6,48.8 L612.9,48.3 L613.3,47.8 L613.7,47.3 L614.0,46.8 L614.4,46.3 L614.8,45.8 L615.1,45.3 L615.5,44.8 L615.8,44.3 L616.2,43.8 L616.6,43.3 L616.9,42.8 L617.3,42.3 L617.7,41.8 L618.0,41.3 L618.4,40.8 L618.8,40.3 L619.1,39.8 L619.5,39.3 L619.8,38.8 L620.2,38.4 L620.6,37.9 L620.9,37.4 L621.3,36.9 L621.7,36.4 L622.0,35.9 L622.4,35.4 L622.8,34.9 L623.1,34.4 L623.5,33.9 L623.9,33.4 L624.2,32.9 L624.6,32.4 L624.9,31.9 L625.3,31.4 L625.7,30.9 L626.0,30.4 L626.4,29.9 L626.8,29.4 L627.1,28.9 L627.5,28.4 L627.8,27.9 L628.2,27.4 L628.6,26.9 L628.9,26.4 L629.3,25.9 L629.7,25.4 L630.0,24.9 L630.4,24.4 L630.8,23.9 L631.1,23.4 L631.5,22.9 L631.8,22.4 L632.2,21.9 L632.6,21.4 L632.9,20.9 L633.3,20.4 L633.7,19.9 L634.0,19.4 L634.4,18.9 L634.8,18.4 L635.1,17.9 L635.5,17.4 L635.8,16.9 L636.2,16.4 L636.6,15.9 L636.9,15.4 L637.3,14.9 L637.7,14.4 L638.0,13.9 L638.4,13.4 L638.7,12.9 L639.1,12.4 L639.5,11.9 L639.8,11.4 L640.2,10.9 L640.6,10.4 L640.9,9.9 L641.3,9.4 L641.6,8.9 L642.0,8.4 L642.4,7.9 L642.7,7.4 L643.1,6.9 L643.5,6.4 L643.8,5.9 L644.2,5.4 L644.5,4.9 L644.9,4.4 L645.3,3.9 L645.6,3.4 L646.0,2.9" fill="none" stroke="#00f" stroke-width="1.55" stroke-dasharray="8.6 7.95" stroke-dashoffset="11.01"/>
<path d="M445.0,96.4 L446.9,98.1 L448.9,99.7 L450.8,101.4 L452.8,103.0 L454.7,104.7 L456.7,106.3 L458.6,108.0 L460.6,109.6 L462.5,111.3 L464.5,112.9 L466.4,114.6 L468.4,116.2 L470.3,117.9 L472.3,119.5 L474.3,121.2 L476.2,122.8 L478.2,124.5 L480.1,126.1 L482.1,127.8 L484.0,129.4 L486.0,131.1 L487.9,132.7 L489.9,134.4 L491.8,136.0 L493.8,137.7 L495.7,139.3 L497.7,141.0 L499.6,142.6 L501.6,144.3 L503.5,145.9 L505.5,147.6 L507.4,149.2 L509.4,150.9 L511.4,152.5 L513.3,154.2 L515.3,155.8 L517.2,157.4 L519.2,159.1 L521.1,160.7 L523.1,162.4 L525.0,164.0 L527.0,165.7 L528.9,167.3 L530.9,169.0 L532.9,170.6 L534.8,172.3 L536.8,173.9 L538.7,175.6 L540.7,177.2 L542.6,178.9 L544.6,180.5 L546.5,182.1 L548.5,183.8 L550.4,185.4 L552.4,187.1 L554.4,188.7 L556.3,190.4 L558.3,192.0 L560.2,193.7 L562.2,195.3 L564.1,197.0 L566.1,198.6 L568.0,200.3 L570.0,201.9" fill="none" stroke="#f00" stroke-width="1.55"/>
<path d="M445.0,51.6 L446.5,53.7 L448.0,55.7 L449.5,57.8 L451.0,59.8 L452.6,61.9 L454.1,64.0 L455.6,66.0 L457.1,68.1 L458.6,70.1 L460.1,72.2 L461.6,74.3 L463.1,76.3 L464.6,78.4 L466.1,80.4 L467.7,82.5 L469.2,84.6 L470.7,86.6 L472.2,88.7 L473.7,90.7 L475.2,92.8 L476.7,94.9 L478.2,96.9 L479.7,99.0 L481.2,101.1 L482.8,103.1 L484.3,105.2 L485.8,107.2 L487.3,109.3 L488.8,111.4 L490.3,113.4 L491.8,115.5 L493.3,117.5 L494.8,119.6 L496.3,121.7 L497.8,123.7 L499.3,125.8 L500.9,127.9 L502.4,129.9 L503.9,132.0 L505.4,134.0 L506.9,136.1 L508.4,138.2 L509.9,140.2 L511.4,142.3 L512.9,144.4 L514.4,146.4 L515.9,148.5 L517.4,150.6 L518.9,152.6 L520.4,154.7 L521.9,156.7 L523.4,158.8 L525.0,160.9 L526.5,162.9 L528.0,165.0 L529.5,167.1 L531.0,169.1 L532.5,171.2 L534.0,173.3 L535.5,175.3 L537.0,177.4 L538.5,179.5 L540.0,181.5 L541.5,183.6 L543.0,185.7 L544.5,187.7 L546.0,189.8 L547.5,191.9 L549.0,193.9 L550.5,196.0 L552.0,198.1 L553.5,200.1 L555.0,202.2" fill="none" stroke="#00f" stroke-width="1.55"/>
</g>
<path d="M77.7,6.3 v5.4 M77.7,197.0 v-5.4 M130.5,6.3 v5.4 M130.5,197.0 v-5.4 M183.4,6.3 v5.4 M183.4,197.0 v-5.4 M45.4,53.9 h5.4 M236.7,53.9 h-5.4 M45.4,101.5 h5.4 M236.7,101.5 h-5.4 M45.4,149.1 h5.4 M236.7,149.1 h-5.4 " stroke="#000" stroke-width="0.8" fill="none"/>
<rect x="45.4" y="6.3" width="191.3" height="190.7" fill="none" stroke="#000" stroke-width="1.5"/>
<path d="M287.7,6.3 v5.4 M287.7,197.0 v-5.4 M335.7,6.3 v5.4 M335.7,197.0 v-5.4 M383.6,6.3 v5.4 M383.6,197.0 v-5.4 M239.6,53.9 h5.4 M431.5,53.9 h-5.4 M239.6,101.5 h5.4 M431.5,101.5 h-5.4 M239.6,149.1 h5.4 M431.5,149.1 h-5.4 " stroke="#000" stroke-width="0.8" fill="none"/>
<rect x="239.6" y="6.3" width="191.9" height="190.7" fill="none" stroke="#000" stroke-width="1.5"/>
<path d="M499.4,6.3 v5.4 M499.4,197.0 v-5.4 M547.1,6.3 v5.4 M547.1,197.0 v-5.4 M594.8,6.3 v5.4 M594.8,197.0 v-5.4 M451.6,59.4 h5.4 M642.6,59.4 h-5.4 M451.6,112.4 h5.4 M642.6,112.4 h-5.4 M451.6,165.5 h5.4 M642.6,165.5 h-5.4 " stroke="#000" stroke-width="0.8" fill="none"/>
<rect x="451.6" y="6.3" width="191.0" height="190.7" fill="none" stroke="#000" stroke-width="1.5"/>
<text x="41.6" y="15.7" font-size="14" text-anchor="end" >0</text>
<text x="41.6" y="58.6" font-size="14" text-anchor="end" >-2</text>
<text x="41.6" y="106.2" font-size="14" text-anchor="end" >-4</text>
<text x="41.6" y="153.8" font-size="14" text-anchor="end" >-6</text>
<text x="41.6" y="197.3" font-size="14" text-anchor="end" >-8</text>
<text x="79.9" y="212.7" font-size="14" text-anchor="middle" >0.15</text>
<text x="133.7" y="212.7" font-size="14" text-anchor="middle" >0.30</text>
<text x="185.6" y="212.7" font-size="14" text-anchor="middle" >0.45</text>
<text x="222.9" y="212.7" font-size="14" text-anchor="middle" >0.60</text>
<text x="253.3" y="212.7" font-size="14" text-anchor="middle" >0.72</text>
<text x="291.0" y="212.7" font-size="14" text-anchor="middle" >0.78</text>
<text x="338.7" y="212.7" font-size="14" text-anchor="middle" >0.84</text>
<text x="386.6" y="212.7" font-size="14" text-anchor="middle" >0.90</text>
<text x="419.1" y="212.7" font-size="14" text-anchor="middle" >0.96</text>
<text x="464.3" y="212.7" font-size="14" text-anchor="middle" >0.72</text>
<text x="502.5" y="212.7" font-size="14" text-anchor="middle" >0.78</text>
<text x="550.1" y="212.7" font-size="14" text-anchor="middle" >0.84</text>
<text x="597.8" y="212.7" font-size="14" text-anchor="middle" >0.90</text>
<text x="629.6" y="212.7" font-size="14" text-anchor="middle" >0.96</text>
<text x="646.3" y="15.8" font-size="14" text-anchor="start" >0.60</text>
<text x="646.3" y="64.1" font-size="14" text-anchor="start" >0.45</text>
<text x="646.3" y="117.0" font-size="14" text-anchor="start" >0.30</text>
<text x="646.3" y="170.1" font-size="14" text-anchor="start" >0.15</text>
<g transform="translate(111.5,235.3)">
<text x="-0.2" y="0" font-size="15.5">&#931;</text>
<text x="9.6" y="0" font-size="15.2">m</text>
<text x="20.7" y="3.4" font-size="13.5">&#957;</text>
<text x="33.1" y="0" font-size="14.4">[eV]</text>
</g>
<g transform="translate(680.2,72.6) rotate(90)">
<text x="-0.2" y="0" font-size="15.5">&#931;</text>
<text x="9.6" y="0" font-size="15.2">m</text>
<text x="20.7" y="3.4" font-size="13.5">&#957;</text>
<text x="33.1" y="0" font-size="14.4">[eV]</text>
</g>
<g transform="translate(328.8,235.2) scale(1.12,0.92)"><text x="0" y="0" font-size="15.5" stroke="#000" stroke-width="0.4">&#963;</text></g>
<text x="338.2" y="238.4" font-size="10">8</text>
<g transform="translate(540.4,235.2) scale(1.12,0.92)"><text x="0" y="0" font-size="15.5" stroke="#000" stroke-width="0.4">&#963;</text></g>
<text x="549.8" y="238.4" font-size="10">8</text>
<text transform="translate(21.2,129.8) rotate(-90)" font-size="14.4">Log<tspan font-size="10" dy="3.6">10</tspan><tspan dy="-3.6">(B</tspan><tspan font-size="10" dy="3.6">0</tspan><tspan dy="-3.6">)</tspan></text>
<rect x="45.5" y="247.9" width="596.9" height="28.2" fill="#fff" stroke="#000" stroke-width="1.5"/>
<rect x="72.9" y="259.2" width="28.9" height="7.8" fill="#2685F0"/>
<rect x="72.9" y="256.1" width="28.9" height="1.9" fill="#00f"/>
<text x="104.9" y="266.9" font-size="16.6">EFTCAMB: PLC, BAO, WiggleZ</text>
<rect x="359.3" y="258.9" width="29" height="8.1" fill="#E03424"/>
<rect x="359.3" y="255.9" width="29" height="1.9" fill="#f00"/>
<text x="392.1" y="266.9" font-size="16.6">MGCAMB: PLC, BAO, WiggleZ</text>
</svg></body></html>
